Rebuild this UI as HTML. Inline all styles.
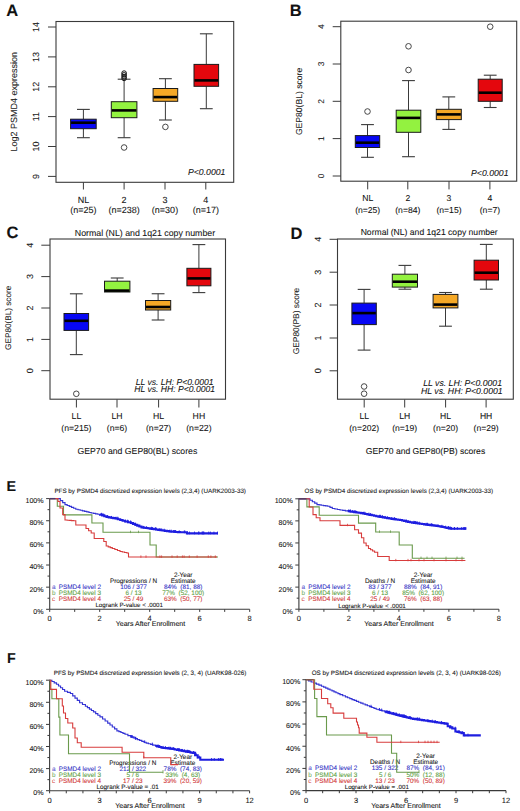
<!DOCTYPE html>
<html><head><meta charset="utf-8"><style>
html,body{margin:0;padding:0;background:#fff;}
svg{display:block;font-family:"Liberation Sans", sans-serif;text-rendering:geometricPrecision;}
</style></head><body>
<svg width="520" height="811" viewBox="0 0 520 811">
<rect width="520" height="811" fill="#fff"/>
<text x="6.2" y="16.3" font-size="16.5" text-anchor="start" fill="#111" stroke="#111" stroke-width="0.08" font-weight="bold">A</text>
<rect x="56" y="21.5" width="177.7" height="160.8" fill="none" stroke="#3a3a3a" stroke-width="1.1"/>
<line x1="48" y1="27" x2="56" y2="27" stroke="#3a3a3a" stroke-width="1"/>
<text x="39.3" y="27" font-size="9" text-anchor="middle" fill="#222" stroke="#222" stroke-width="0.08" transform="rotate(-90 39.3 27)">14</text>
<line x1="48" y1="56.9" x2="56" y2="56.9" stroke="#3a3a3a" stroke-width="1"/>
<text x="39.3" y="56.9" font-size="9" text-anchor="middle" fill="#222" stroke="#222" stroke-width="0.08" transform="rotate(-90 39.3 56.9)">13</text>
<line x1="48" y1="86.8" x2="56" y2="86.8" stroke="#3a3a3a" stroke-width="1"/>
<text x="39.3" y="86.8" font-size="9" text-anchor="middle" fill="#222" stroke="#222" stroke-width="0.08" transform="rotate(-90 39.3 86.8)">12</text>
<line x1="48" y1="116.6" x2="56" y2="116.6" stroke="#3a3a3a" stroke-width="1"/>
<text x="39.3" y="116.6" font-size="9" text-anchor="middle" fill="#222" stroke="#222" stroke-width="0.08" transform="rotate(-90 39.3 116.6)">11</text>
<line x1="48" y1="146.5" x2="56" y2="146.5" stroke="#3a3a3a" stroke-width="1"/>
<text x="39.3" y="146.5" font-size="9" text-anchor="middle" fill="#222" stroke="#222" stroke-width="0.08" transform="rotate(-90 39.3 146.5)">10</text>
<line x1="48" y1="176.4" x2="56" y2="176.4" stroke="#3a3a3a" stroke-width="1"/>
<text x="39.3" y="176.4" font-size="9" text-anchor="middle" fill="#222" stroke="#222" stroke-width="0.08" transform="rotate(-90 39.3 176.4)">9</text>
<text x="16.9" y="101.8" font-size="9" text-anchor="middle" fill="#222" stroke="#222" stroke-width="0.08" transform="rotate(-90 16.9 101.8)">Log2 PSMD4 expression</text>
<line x1="83.4" y1="109.4" x2="83.4" y2="119.2" stroke="#3a3a3a" stroke-width="1"/>
<line x1="77.0" y1="109.4" x2="89.80000000000001" y2="109.4" stroke="#3a3a3a" stroke-width="1.1"/>
<line x1="83.4" y1="128.7" x2="83.4" y2="137.7" stroke="#3a3a3a" stroke-width="1"/>
<line x1="77.0" y1="137.7" x2="89.80000000000001" y2="137.7" stroke="#3a3a3a" stroke-width="1.1"/>
<rect x="70.60000000000001" y="119.2" width="25.6" height="9.499999999999986" fill="#0707f4" stroke="#1a1a1a" stroke-width="1"/>
<line x1="71.10000000000001" y1="122.7" x2="95.7" y2="122.7" stroke="#000" stroke-width="2.6"/>
<line x1="124.1" y1="79.2" x2="124.1" y2="101.7" stroke="#3a3a3a" stroke-width="1"/>
<line x1="117.69999999999999" y1="79.2" x2="130.5" y2="79.2" stroke="#3a3a3a" stroke-width="1.1"/>
<line x1="124.1" y1="117.7" x2="124.1" y2="137.7" stroke="#3a3a3a" stroke-width="1"/>
<line x1="117.69999999999999" y1="137.7" x2="130.5" y2="137.7" stroke="#3a3a3a" stroke-width="1.1"/>
<rect x="111.3" y="101.7" width="25.6" height="16.0" fill="#93f240" stroke="#1a1a1a" stroke-width="1"/>
<line x1="111.8" y1="110.4" x2="136.4" y2="110.4" stroke="#000" stroke-width="2.6"/>
<circle cx="124.1" cy="147.5" r="2.8" fill="none" stroke="#333" stroke-width="0.9"/>
<circle cx="124.1" cy="73.1" r="2.3" fill="none" stroke="#111" stroke-width="1.0"/>
<circle cx="124.1" cy="74.9" r="2.3" fill="none" stroke="#111" stroke-width="1.0"/>
<circle cx="124.1" cy="76.7" r="2.3" fill="none" stroke="#111" stroke-width="1.0"/>
<circle cx="124.1" cy="78.4" r="2.3" fill="none" stroke="#111" stroke-width="1.0"/>
<line x1="165.4" y1="78.7" x2="165.4" y2="88.5" stroke="#3a3a3a" stroke-width="1"/>
<line x1="159.0" y1="78.7" x2="171.8" y2="78.7" stroke="#3a3a3a" stroke-width="1.1"/>
<line x1="165.4" y1="101.3" x2="165.4" y2="120" stroke="#3a3a3a" stroke-width="1"/>
<line x1="159.0" y1="120" x2="171.8" y2="120" stroke="#3a3a3a" stroke-width="1.1"/>
<rect x="153.1" y="88.5" width="24.6" height="12.799999999999997" fill="#f5a826" stroke="#1a1a1a" stroke-width="1"/>
<line x1="153.6" y1="97.1" x2="177.20000000000002" y2="97.1" stroke="#000" stroke-width="2.6"/>
<circle cx="165.4" cy="126.9" r="2.8" fill="none" stroke="#333" stroke-width="0.9"/>
<line x1="206.3" y1="33.8" x2="206.3" y2="64.4" stroke="#3a3a3a" stroke-width="1"/>
<line x1="199.9" y1="33.8" x2="212.70000000000002" y2="33.8" stroke="#3a3a3a" stroke-width="1.1"/>
<line x1="206.3" y1="86.3" x2="206.3" y2="108.7" stroke="#3a3a3a" stroke-width="1"/>
<line x1="199.9" y1="108.7" x2="212.70000000000002" y2="108.7" stroke="#3a3a3a" stroke-width="1.1"/>
<rect x="194.0" y="64.4" width="24.6" height="21.89999999999999" fill="#e4070d" stroke="#1a1a1a" stroke-width="1"/>
<line x1="194.5" y1="80.4" x2="218.10000000000002" y2="80.4" stroke="#000" stroke-width="2.6"/>
<line x1="83.4" y1="182.3" x2="83.4" y2="189.5" stroke="#3a3a3a" stroke-width="1"/>
<text x="83.4" y="202.9" font-size="9.0" text-anchor="middle" fill="#141414" stroke="#141414" stroke-width="0.08">NL</text>
<text x="83.4" y="213.2" font-size="9.0" text-anchor="middle" fill="#141414" stroke="#141414" stroke-width="0.08">(n=25)</text>
<line x1="124.1" y1="182.3" x2="124.1" y2="189.5" stroke="#3a3a3a" stroke-width="1"/>
<text x="124.1" y="202.9" font-size="9.0" text-anchor="middle" fill="#141414" stroke="#141414" stroke-width="0.08">2</text>
<text x="124.1" y="213.2" font-size="9.0" text-anchor="middle" fill="#141414" stroke="#141414" stroke-width="0.08">(n=238)</text>
<line x1="165.0" y1="182.3" x2="165.0" y2="189.5" stroke="#3a3a3a" stroke-width="1"/>
<text x="165.0" y="202.9" font-size="9.0" text-anchor="middle" fill="#141414" stroke="#141414" stroke-width="0.08">3</text>
<text x="165.0" y="213.2" font-size="9.0" text-anchor="middle" fill="#141414" stroke="#141414" stroke-width="0.08">(n=30)</text>
<line x1="205.8" y1="182.3" x2="205.8" y2="189.5" stroke="#3a3a3a" stroke-width="1"/>
<text x="205.8" y="202.9" font-size="9.0" text-anchor="middle" fill="#141414" stroke="#141414" stroke-width="0.08">4</text>
<text x="205.8" y="213.2" font-size="9.0" text-anchor="middle" fill="#141414" stroke="#141414" stroke-width="0.08">(n=17)</text>
<text x="225.4" y="175" font-size="8.7" text-anchor="end" fill="#141414" stroke="#141414" stroke-width="0.08" font-style="italic">P&lt;0.0001</text>
<text x="289.8" y="16.3" font-size="16.5" text-anchor="start" fill="#111" stroke="#111" stroke-width="0.08" font-weight="bold">B</text>
<rect x="340.8" y="21.2" width="175.9" height="160" fill="none" stroke="#3a3a3a" stroke-width="1.1"/>
<line x1="332.7" y1="26.7" x2="340.8" y2="26.7" stroke="#3a3a3a" stroke-width="1"/>
<text x="323.8" y="26.7" font-size="8.4" text-anchor="middle" fill="#222" stroke="#222" stroke-width="0.08" transform="rotate(-90 323.8 26.7)">4</text>
<line x1="332.7" y1="64" x2="340.8" y2="64" stroke="#3a3a3a" stroke-width="1"/>
<text x="323.8" y="64" font-size="8.4" text-anchor="middle" fill="#222" stroke="#222" stroke-width="0.08" transform="rotate(-90 323.8 64)">3</text>
<line x1="332.7" y1="101.3" x2="340.8" y2="101.3" stroke="#3a3a3a" stroke-width="1"/>
<text x="323.8" y="101.3" font-size="8.4" text-anchor="middle" fill="#222" stroke="#222" stroke-width="0.08" transform="rotate(-90 323.8 101.3)">2</text>
<line x1="332.7" y1="138.6" x2="340.8" y2="138.6" stroke="#3a3a3a" stroke-width="1"/>
<text x="323.8" y="138.6" font-size="8.4" text-anchor="middle" fill="#222" stroke="#222" stroke-width="0.08" transform="rotate(-90 323.8 138.6)">1</text>
<line x1="332.7" y1="176" x2="340.8" y2="176" stroke="#3a3a3a" stroke-width="1"/>
<text x="323.8" y="176" font-size="8.4" text-anchor="middle" fill="#222" stroke="#222" stroke-width="0.08" transform="rotate(-90 323.8 176)">0</text>
<text x="302.2" y="101.4" font-size="8.6" text-anchor="middle" fill="#222" stroke="#222" stroke-width="0.08" transform="rotate(-90 302.2 101.4)">GEP80(BL) score</text>
<line x1="367.5" y1="124.6" x2="367.5" y2="135.6" stroke="#3a3a3a" stroke-width="1"/>
<line x1="361.1" y1="124.6" x2="373.9" y2="124.6" stroke="#3a3a3a" stroke-width="1.1"/>
<line x1="367.5" y1="147.5" x2="367.5" y2="157.3" stroke="#3a3a3a" stroke-width="1"/>
<line x1="361.1" y1="157.3" x2="373.9" y2="157.3" stroke="#3a3a3a" stroke-width="1.1"/>
<rect x="355.3" y="135.6" width="24.4" height="11.900000000000006" fill="#0707f4" stroke="#1a1a1a" stroke-width="1"/>
<line x1="355.8" y1="142.7" x2="379.2" y2="142.7" stroke="#000" stroke-width="2.6"/>
<circle cx="367.5" cy="111.5" r="2.8" fill="none" stroke="#333" stroke-width="0.9"/>
<line x1="408.5" y1="80.6" x2="408.5" y2="110.2" stroke="#3a3a3a" stroke-width="1"/>
<line x1="402.1" y1="80.6" x2="414.9" y2="80.6" stroke="#3a3a3a" stroke-width="1.1"/>
<line x1="408.5" y1="132.3" x2="408.5" y2="156.7" stroke="#3a3a3a" stroke-width="1"/>
<line x1="402.1" y1="156.7" x2="414.9" y2="156.7" stroke="#3a3a3a" stroke-width="1.1"/>
<rect x="396.2" y="110.2" width="24.6" height="22.10000000000001" fill="#93f240" stroke="#1a1a1a" stroke-width="1"/>
<line x1="396.7" y1="117.9" x2="420.3" y2="117.9" stroke="#000" stroke-width="2.6"/>
<circle cx="408.5" cy="46.3" r="2.8" fill="none" stroke="#333" stroke-width="0.9"/>
<circle cx="408.5" cy="70" r="2.8" fill="none" stroke="#333" stroke-width="0.9"/>
<line x1="448.8" y1="96.9" x2="448.8" y2="109.3" stroke="#3a3a3a" stroke-width="1"/>
<line x1="442.40000000000003" y1="96.9" x2="455.2" y2="96.9" stroke="#3a3a3a" stroke-width="1.1"/>
<line x1="448.8" y1="119.6" x2="448.8" y2="129.4" stroke="#3a3a3a" stroke-width="1"/>
<line x1="442.40000000000003" y1="129.4" x2="455.2" y2="129.4" stroke="#3a3a3a" stroke-width="1.1"/>
<rect x="436.3" y="109.3" width="25.0" height="10.299999999999997" fill="#f5a826" stroke="#1a1a1a" stroke-width="1"/>
<line x1="436.8" y1="114.4" x2="460.8" y2="114.4" stroke="#000" stroke-width="2.6"/>
<line x1="490.2" y1="75.2" x2="490.2" y2="79.2" stroke="#3a3a3a" stroke-width="1"/>
<line x1="483.8" y1="75.2" x2="496.59999999999997" y2="75.2" stroke="#3a3a3a" stroke-width="1.1"/>
<line x1="490.2" y1="101.3" x2="490.2" y2="107.5" stroke="#3a3a3a" stroke-width="1"/>
<line x1="483.8" y1="107.5" x2="496.59999999999997" y2="107.5" stroke="#3a3a3a" stroke-width="1.1"/>
<rect x="478.2" y="79.2" width="24.0" height="22.099999999999994" fill="#e4070d" stroke="#1a1a1a" stroke-width="1"/>
<line x1="478.7" y1="92.7" x2="501.7" y2="92.7" stroke="#000" stroke-width="2.6"/>
<circle cx="490.2" cy="26.7" r="2.8" fill="none" stroke="#333" stroke-width="0.9"/>
<line x1="367.7" y1="181.2" x2="367.7" y2="189.4" stroke="#3a3a3a" stroke-width="1"/>
<text x="367.7" y="200.5" font-size="8.6" text-anchor="middle" fill="#141414" stroke="#141414" stroke-width="0.08">NL</text>
<text x="367.7" y="213.3" font-size="8.6" text-anchor="middle" fill="#141414" stroke="#141414" stroke-width="0.08">(n=25)</text>
<line x1="407.8" y1="181.2" x2="407.8" y2="189.4" stroke="#3a3a3a" stroke-width="1"/>
<text x="407.8" y="200.5" font-size="8.6" text-anchor="middle" fill="#141414" stroke="#141414" stroke-width="0.08">2</text>
<text x="407.8" y="213.3" font-size="8.6" text-anchor="middle" fill="#141414" stroke="#141414" stroke-width="0.08">(n=84)</text>
<line x1="449.0" y1="181.2" x2="449.0" y2="189.4" stroke="#3a3a3a" stroke-width="1"/>
<text x="449.0" y="200.5" font-size="8.6" text-anchor="middle" fill="#141414" stroke="#141414" stroke-width="0.08">3</text>
<text x="449.0" y="213.3" font-size="8.6" text-anchor="middle" fill="#141414" stroke="#141414" stroke-width="0.08">(n=15)</text>
<line x1="489.9" y1="181.2" x2="489.9" y2="189.4" stroke="#3a3a3a" stroke-width="1"/>
<text x="489.9" y="200.5" font-size="8.6" text-anchor="middle" fill="#141414" stroke="#141414" stroke-width="0.08">4</text>
<text x="489.9" y="213.3" font-size="8.6" text-anchor="middle" fill="#141414" stroke="#141414" stroke-width="0.08">(n=7)</text>
<text x="508.5" y="176" font-size="8.7" text-anchor="end" fill="#141414" stroke="#141414" stroke-width="0.08" font-style="italic">P&lt;0.0001</text>
<text x="6.5" y="237.7" font-size="16.5" text-anchor="start" fill="#111" stroke="#111" stroke-width="0.08" font-weight="bold">C</text>
<text x="145" y="236" font-size="8.8" text-anchor="middle" fill="#141414" stroke="#141414" stroke-width="0.08">Normal (NL) and 1q21 copy number</text>
<rect x="50" y="239" width="175.5" height="160.2" fill="none" stroke="#3a3a3a" stroke-width="1.1"/>
<line x1="41.3" y1="245.2" x2="50" y2="245.2" stroke="#3a3a3a" stroke-width="1"/>
<text x="32.9" y="245.2" font-size="9.0" text-anchor="middle" fill="#222" stroke="#222" stroke-width="0.08" transform="rotate(-90 32.9 245.2)">4</text>
<line x1="41.3" y1="276.6" x2="50" y2="276.6" stroke="#3a3a3a" stroke-width="1"/>
<text x="32.9" y="276.6" font-size="9.0" text-anchor="middle" fill="#222" stroke="#222" stroke-width="0.08" transform="rotate(-90 32.9 276.6)">3</text>
<line x1="41.3" y1="308" x2="50" y2="308" stroke="#3a3a3a" stroke-width="1"/>
<text x="32.9" y="308" font-size="9.0" text-anchor="middle" fill="#222" stroke="#222" stroke-width="0.08" transform="rotate(-90 32.9 308)">2</text>
<line x1="41.3" y1="339.4" x2="50" y2="339.4" stroke="#3a3a3a" stroke-width="1"/>
<text x="32.9" y="339.4" font-size="9.0" text-anchor="middle" fill="#222" stroke="#222" stroke-width="0.08" transform="rotate(-90 32.9 339.4)">1</text>
<line x1="41.3" y1="370.7" x2="50" y2="370.7" stroke="#3a3a3a" stroke-width="1"/>
<text x="32.9" y="370.7" font-size="9.0" text-anchor="middle" fill="#222" stroke="#222" stroke-width="0.08" transform="rotate(-90 32.9 370.7)">0</text>
<text x="10.6" y="317.8" font-size="8.2" text-anchor="middle" fill="#222" stroke="#222" stroke-width="0.08" transform="rotate(-90 10.6 317.8)">GEP80(BL) score</text>
<line x1="76.3" y1="293.8" x2="76.3" y2="313.5" stroke="#3a3a3a" stroke-width="1"/>
<line x1="69.89999999999999" y1="293.8" x2="82.7" y2="293.8" stroke="#3a3a3a" stroke-width="1.1"/>
<line x1="76.3" y1="330.4" x2="76.3" y2="354.6" stroke="#3a3a3a" stroke-width="1"/>
<line x1="69.89999999999999" y1="354.6" x2="82.7" y2="354.6" stroke="#3a3a3a" stroke-width="1.1"/>
<rect x="64.0" y="313.5" width="24.6" height="16.899999999999977" fill="#0707f4" stroke="#1a1a1a" stroke-width="1"/>
<line x1="64.5" y1="320.8" x2="88.1" y2="320.8" stroke="#000" stroke-width="2.6"/>
<circle cx="76.3" cy="393.8" r="2.8" fill="none" stroke="#333" stroke-width="0.9"/>
<line x1="117.2" y1="278" x2="117.2" y2="281.2" stroke="#3a3a3a" stroke-width="1"/>
<line x1="110.8" y1="278" x2="123.60000000000001" y2="278" stroke="#3a3a3a" stroke-width="1.1"/>
<rect x="104.5" y="281.2" width="25.4" height="10.800000000000011" fill="#93f240" stroke="#1a1a1a" stroke-width="1"/>
<line x1="105.0" y1="290.6" x2="129.4" y2="290.6" stroke="#000" stroke-width="2.6"/>
<line x1="158.1" y1="293.75" x2="158.1" y2="300.5" stroke="#3a3a3a" stroke-width="1"/>
<line x1="151.7" y1="293.75" x2="164.5" y2="293.75" stroke="#3a3a3a" stroke-width="1.1"/>
<line x1="158.1" y1="310" x2="158.1" y2="320" stroke="#3a3a3a" stroke-width="1"/>
<line x1="151.7" y1="320" x2="164.5" y2="320" stroke="#3a3a3a" stroke-width="1.1"/>
<rect x="145.5" y="300.5" width="25.2" height="9.5" fill="#f5a826" stroke="#1a1a1a" stroke-width="1"/>
<line x1="146.0" y1="307" x2="170.2" y2="307" stroke="#000" stroke-width="2.6"/>
<line x1="198.9" y1="244.6" x2="198.9" y2="268.3" stroke="#3a3a3a" stroke-width="1"/>
<line x1="192.5" y1="244.6" x2="205.3" y2="244.6" stroke="#3a3a3a" stroke-width="1.1"/>
<line x1="198.9" y1="285.8" x2="198.9" y2="292.6" stroke="#3a3a3a" stroke-width="1"/>
<line x1="192.5" y1="292.6" x2="205.3" y2="292.6" stroke="#3a3a3a" stroke-width="1.1"/>
<rect x="186.9" y="268.3" width="24.0" height="17.5" fill="#e4070d" stroke="#1a1a1a" stroke-width="1"/>
<line x1="187.4" y1="278.4" x2="210.4" y2="278.4" stroke="#000" stroke-width="2.6"/>
<line x1="76.4" y1="399.5" x2="76.4" y2="407.5" stroke="#3a3a3a" stroke-width="1"/>
<text x="76.4" y="419.2" font-size="8.7" text-anchor="middle" fill="#141414" stroke="#141414" stroke-width="0.08">LL</text>
<text x="76.4" y="430.6" font-size="8.7" text-anchor="middle" fill="#141414" stroke="#141414" stroke-width="0.08">(n=215)</text>
<line x1="117" y1="399.5" x2="117" y2="407.5" stroke="#3a3a3a" stroke-width="1"/>
<text x="117" y="419.2" font-size="8.7" text-anchor="middle" fill="#141414" stroke="#141414" stroke-width="0.08">LH</text>
<text x="117" y="430.6" font-size="8.7" text-anchor="middle" fill="#141414" stroke="#141414" stroke-width="0.08">(n=6)</text>
<line x1="158.6" y1="399.5" x2="158.6" y2="407.5" stroke="#3a3a3a" stroke-width="1"/>
<text x="158.6" y="419.2" font-size="8.7" text-anchor="middle" fill="#141414" stroke="#141414" stroke-width="0.08">HL</text>
<text x="158.6" y="430.6" font-size="8.7" text-anchor="middle" fill="#141414" stroke="#141414" stroke-width="0.08">(n=27)</text>
<line x1="198.9" y1="399.5" x2="198.9" y2="407.5" stroke="#3a3a3a" stroke-width="1"/>
<text x="198.9" y="419.2" font-size="8.7" text-anchor="middle" fill="#141414" stroke="#141414" stroke-width="0.08">HH</text>
<text x="198.9" y="430.6" font-size="8.7" text-anchor="middle" fill="#141414" stroke="#141414" stroke-width="0.08">(n=22)</text>
<text x="213.6" y="384.9" font-size="8.6" text-anchor="end" fill="#141414" stroke="#141414" stroke-width="0.08" font-style="italic">LL vs. LH: P&lt;0.0001</text>
<text x="215" y="392.4" font-size="8.6" text-anchor="end" fill="#141414" stroke="#141414" stroke-width="0.08" font-style="italic">HL vs. HH: P&lt;0.0001</text>
<text x="137.4" y="454" font-size="8.7" text-anchor="middle" fill="#141414" stroke="#141414" stroke-width="0.08">GEP70 and GEP80(BL) scores</text>
<text x="290.4" y="238.5" font-size="16.5" text-anchor="start" fill="#111" stroke="#111" stroke-width="0.08" font-weight="bold">D</text>
<text x="429.2" y="235.4" font-size="8.6" text-anchor="middle" fill="#141414" stroke="#141414" stroke-width="0.08">Normal (NL) and 1q21 copy number</text>
<rect x="337.5" y="239" width="175.8" height="160.2" fill="none" stroke="#3a3a3a" stroke-width="1.1"/>
<line x1="329.6" y1="239.3" x2="337.5" y2="239.3" stroke="#3a3a3a" stroke-width="1"/>
<text x="321.0" y="239.3" font-size="9.0" text-anchor="middle" fill="#222" stroke="#222" stroke-width="0.08" transform="rotate(-90 321.0 239.3)">4</text>
<line x1="329.6" y1="272.2" x2="337.5" y2="272.2" stroke="#3a3a3a" stroke-width="1"/>
<text x="321.0" y="272.2" font-size="9.0" text-anchor="middle" fill="#222" stroke="#222" stroke-width="0.08" transform="rotate(-90 321.0 272.2)">3</text>
<line x1="329.6" y1="305" x2="337.5" y2="305" stroke="#3a3a3a" stroke-width="1"/>
<text x="321.0" y="305" font-size="9.0" text-anchor="middle" fill="#222" stroke="#222" stroke-width="0.08" transform="rotate(-90 321.0 305)">2</text>
<line x1="329.6" y1="338" x2="337.5" y2="338" stroke="#3a3a3a" stroke-width="1"/>
<text x="321.0" y="338" font-size="9.0" text-anchor="middle" fill="#222" stroke="#222" stroke-width="0.08" transform="rotate(-90 321.0 338)">1</text>
<line x1="329.6" y1="370.8" x2="337.5" y2="370.8" stroke="#3a3a3a" stroke-width="1"/>
<text x="321.0" y="370.8" font-size="9.0" text-anchor="middle" fill="#222" stroke="#222" stroke-width="0.08" transform="rotate(-90 321.0 370.8)">0</text>
<text x="298.6" y="321" font-size="8.4" text-anchor="middle" fill="#222" stroke="#222" stroke-width="0.08" transform="rotate(-90 298.6 321)">GEP80(PB) score</text>
<line x1="364.1" y1="289.4" x2="364.1" y2="303.1" stroke="#3a3a3a" stroke-width="1"/>
<line x1="357.70000000000005" y1="289.4" x2="370.5" y2="289.4" stroke="#3a3a3a" stroke-width="1.1"/>
<line x1="364.1" y1="324.6" x2="364.1" y2="350.1" stroke="#3a3a3a" stroke-width="1"/>
<line x1="357.70000000000005" y1="350.1" x2="370.5" y2="350.1" stroke="#3a3a3a" stroke-width="1.1"/>
<rect x="351.90000000000003" y="303.1" width="24.4" height="21.5" fill="#0707f4" stroke="#1a1a1a" stroke-width="1"/>
<line x1="352.40000000000003" y1="313.1" x2="375.8" y2="313.1" stroke="#000" stroke-width="2.6"/>
<circle cx="364.1" cy="386.5" r="2.8" fill="none" stroke="#333" stroke-width="0.9"/>
<circle cx="364.1" cy="393.7" r="2.8" fill="none" stroke="#333" stroke-width="0.9"/>
<line x1="404.9" y1="265.4" x2="404.9" y2="274.2" stroke="#3a3a3a" stroke-width="1"/>
<line x1="398.5" y1="265.4" x2="411.29999999999995" y2="265.4" stroke="#3a3a3a" stroke-width="1.1"/>
<line x1="404.9" y1="287.1" x2="404.9" y2="289.2" stroke="#3a3a3a" stroke-width="1"/>
<line x1="398.5" y1="289.2" x2="411.29999999999995" y2="289.2" stroke="#3a3a3a" stroke-width="1.1"/>
<rect x="392.29999999999995" y="274.2" width="25.2" height="12.900000000000034" fill="#93f240" stroke="#1a1a1a" stroke-width="1"/>
<line x1="392.79999999999995" y1="281.7" x2="417.0" y2="281.7" stroke="#000" stroke-width="2.6"/>
<line x1="445.5" y1="292.5" x2="445.5" y2="294.4" stroke="#3a3a3a" stroke-width="1"/>
<line x1="439.1" y1="292.5" x2="451.9" y2="292.5" stroke="#3a3a3a" stroke-width="1.1"/>
<line x1="445.5" y1="307.9" x2="445.5" y2="326.2" stroke="#3a3a3a" stroke-width="1"/>
<line x1="439.1" y1="326.2" x2="451.9" y2="326.2" stroke="#3a3a3a" stroke-width="1.1"/>
<rect x="433.1" y="294.4" width="24.8" height="13.5" fill="#f5a826" stroke="#1a1a1a" stroke-width="1"/>
<line x1="433.6" y1="304.6" x2="457.4" y2="304.6" stroke="#000" stroke-width="2.6"/>
<line x1="486.3" y1="244.4" x2="486.3" y2="260.2" stroke="#3a3a3a" stroke-width="1"/>
<line x1="479.90000000000003" y1="244.4" x2="492.7" y2="244.4" stroke="#3a3a3a" stroke-width="1.1"/>
<line x1="486.3" y1="280" x2="486.3" y2="289.2" stroke="#3a3a3a" stroke-width="1"/>
<line x1="479.90000000000003" y1="289.2" x2="492.7" y2="289.2" stroke="#3a3a3a" stroke-width="1.1"/>
<rect x="474.1" y="260.2" width="24.4" height="19.80000000000001" fill="#e4070d" stroke="#1a1a1a" stroke-width="1"/>
<line x1="474.6" y1="272.7" x2="498.0" y2="272.7" stroke="#000" stroke-width="2.6"/>
<line x1="364.2" y1="399.5" x2="364.2" y2="407.5" stroke="#3a3a3a" stroke-width="1"/>
<text x="364.2" y="419" font-size="8.6" text-anchor="middle" fill="#141414" stroke="#141414" stroke-width="0.08">LL</text>
<text x="364.2" y="430.7" font-size="8.6" text-anchor="middle" fill="#141414" stroke="#141414" stroke-width="0.08">(n=202)</text>
<line x1="404.7" y1="399.5" x2="404.7" y2="407.5" stroke="#3a3a3a" stroke-width="1"/>
<text x="404.7" y="419" font-size="8.6" text-anchor="middle" fill="#141414" stroke="#141414" stroke-width="0.08">LH</text>
<text x="404.7" y="430.7" font-size="8.6" text-anchor="middle" fill="#141414" stroke="#141414" stroke-width="0.08">(n=19)</text>
<line x1="445.6" y1="399.5" x2="445.6" y2="407.5" stroke="#3a3a3a" stroke-width="1"/>
<text x="445.6" y="419" font-size="8.6" text-anchor="middle" fill="#141414" stroke="#141414" stroke-width="0.08">HL</text>
<text x="445.6" y="430.7" font-size="8.6" text-anchor="middle" fill="#141414" stroke="#141414" stroke-width="0.08">(n=20)</text>
<line x1="486.1" y1="399.5" x2="486.1" y2="407.5" stroke="#3a3a3a" stroke-width="1"/>
<text x="486.1" y="419" font-size="8.6" text-anchor="middle" fill="#141414" stroke="#141414" stroke-width="0.08">HH</text>
<text x="486.1" y="430.7" font-size="8.6" text-anchor="middle" fill="#141414" stroke="#141414" stroke-width="0.08">(n=29)</text>
<text x="502" y="385.8" font-size="8.7" text-anchor="end" fill="#141414" stroke="#141414" stroke-width="0.08" font-style="italic">LL vs. LH: P&lt;0.0001</text>
<text x="502.7" y="394.4" font-size="8.7" text-anchor="end" fill="#141414" stroke="#141414" stroke-width="0.08" font-style="italic">HL vs. HH: P&lt;0.0001</text>
<text x="425.5" y="453.7" font-size="8.6" text-anchor="middle" fill="#141414" stroke="#141414" stroke-width="0.08">GEP70 and GEP80(PB) scores</text>
<text x="6.6" y="490.8" font-size="14.3" text-anchor="start" fill="#111" stroke="#111" stroke-width="0.08" font-weight="bold">E</text>
<text x="150.2" y="493" font-size="6.28" text-anchor="middle" fill="#141414" stroke="#141414" stroke-width="0.08">PFS by PSMD4 discretized expression levels (2,3,4) (UARK2003-33)</text>
<line x1="49.7" y1="498.1" x2="49.7" y2="609.3" stroke="#3a3a3a" stroke-width="1.1"/>
<line x1="49.7" y1="609.3" x2="249.7" y2="609.3" stroke="#3a3a3a" stroke-width="1.1"/>
<line x1="46.1" y1="609.3" x2="49.7" y2="609.3" stroke="#3a3a3a" stroke-width="1"/>
<text x="43.6" y="613.6999999999999" font-size="7.1" text-anchor="end" fill="#141414" stroke="#141414" stroke-width="0.08">0%</text>
<line x1="47.5" y1="598.23" x2="49.7" y2="598.23" stroke="#3a3a3a" stroke-width="1"/>
<line x1="46.1" y1="587.16" x2="49.7" y2="587.16" stroke="#3a3a3a" stroke-width="1"/>
<text x="43.6" y="591.56" font-size="7.1" text-anchor="end" fill="#141414" stroke="#141414" stroke-width="0.08">20%</text>
<line x1="47.5" y1="576.0899999999999" x2="49.7" y2="576.0899999999999" stroke="#3a3a3a" stroke-width="1"/>
<line x1="46.1" y1="565.02" x2="49.7" y2="565.02" stroke="#3a3a3a" stroke-width="1"/>
<text x="43.6" y="569.42" font-size="7.1" text-anchor="end" fill="#141414" stroke="#141414" stroke-width="0.08">40%</text>
<line x1="47.5" y1="553.95" x2="49.7" y2="553.95" stroke="#3a3a3a" stroke-width="1"/>
<line x1="46.1" y1="542.88" x2="49.7" y2="542.88" stroke="#3a3a3a" stroke-width="1"/>
<text x="43.6" y="547.28" font-size="7.1" text-anchor="end" fill="#141414" stroke="#141414" stroke-width="0.08">60%</text>
<line x1="47.5" y1="531.81" x2="49.7" y2="531.81" stroke="#3a3a3a" stroke-width="1"/>
<line x1="46.1" y1="520.74" x2="49.7" y2="520.74" stroke="#3a3a3a" stroke-width="1"/>
<text x="43.6" y="525.14" font-size="7.1" text-anchor="end" fill="#141414" stroke="#141414" stroke-width="0.08">80%</text>
<line x1="47.5" y1="509.67" x2="49.7" y2="509.67" stroke="#3a3a3a" stroke-width="1"/>
<line x1="46.1" y1="498.6" x2="49.7" y2="498.6" stroke="#3a3a3a" stroke-width="1"/>
<text x="43.6" y="503.0" font-size="7.1" text-anchor="end" fill="#141414" stroke="#141414" stroke-width="0.08">100%</text>
<line x1="49.7" y1="609.3" x2="49.7" y2="611.9" stroke="#3a3a3a" stroke-width="1"/>
<text x="49.7" y="621.1999999999999" font-size="7.5" text-anchor="middle" fill="#141414" stroke="#141414" stroke-width="0.08">0</text>
<line x1="74.7" y1="609.3" x2="74.7" y2="611.9" stroke="#3a3a3a" stroke-width="1"/>
<line x1="99.7" y1="609.3" x2="99.7" y2="611.9" stroke="#3a3a3a" stroke-width="1"/>
<text x="99.7" y="621.1999999999999" font-size="7.5" text-anchor="middle" fill="#141414" stroke="#141414" stroke-width="0.08">2</text>
<line x1="124.7" y1="609.3" x2="124.7" y2="611.9" stroke="#3a3a3a" stroke-width="1"/>
<line x1="149.7" y1="609.3" x2="149.7" y2="611.9" stroke="#3a3a3a" stroke-width="1"/>
<text x="149.7" y="621.1999999999999" font-size="7.5" text-anchor="middle" fill="#141414" stroke="#141414" stroke-width="0.08">4</text>
<line x1="174.7" y1="609.3" x2="174.7" y2="611.9" stroke="#3a3a3a" stroke-width="1"/>
<line x1="199.7" y1="609.3" x2="199.7" y2="611.9" stroke="#3a3a3a" stroke-width="1"/>
<text x="199.7" y="621.1999999999999" font-size="7.5" text-anchor="middle" fill="#141414" stroke="#141414" stroke-width="0.08">6</text>
<line x1="224.7" y1="609.3" x2="224.7" y2="611.9" stroke="#3a3a3a" stroke-width="1"/>
<line x1="249.7" y1="609.3" x2="249.7" y2="611.9" stroke="#3a3a3a" stroke-width="1"/>
<text x="249.7" y="621.1999999999999" font-size="7.5" text-anchor="middle" fill="#141414" stroke="#141414" stroke-width="0.08">8</text>
<text x="51.900000000000006" y="588.6999999999999" font-size="6.4" text-anchor="start" fill="#2f2fc4" stroke="#2f2fc4" stroke-width="0.08" fill-opacity="0.8">a</text>
<text x="58.7" y="588.6999999999999" font-size="6.4" text-anchor="start" fill="#2f2fc4" stroke="#2f2fc4" stroke-width="0.08">PSMD4 level 2</text>
<text x="133.5" y="588.6999999999999" font-size="6.4" text-anchor="middle" fill="#2f2fc4" stroke="#2f2fc4" stroke-width="0.08">106 / 377</text>
<text x="183.2" y="588.6999999999999" font-size="6.4" text-anchor="middle" fill="#2f2fc4" stroke="#2f2fc4" stroke-width="0.08" xml:space="preserve">84%  (81, 88)</text>
<text x="51.900000000000006" y="594.6999999999999" font-size="6.4" text-anchor="start" fill="#5a9e3e" stroke="#5a9e3e" stroke-width="0.08" fill-opacity="0.8">b</text>
<text x="58.7" y="594.6999999999999" font-size="6.4" text-anchor="start" fill="#5a9e3e" stroke="#5a9e3e" stroke-width="0.08">PSMD4 level 3</text>
<text x="133.5" y="594.6999999999999" font-size="6.4" text-anchor="middle" fill="#5a9e3e" stroke="#5a9e3e" stroke-width="0.08">6 / 13</text>
<text x="183.2" y="594.6999999999999" font-size="6.4" text-anchor="middle" fill="#5a9e3e" stroke="#5a9e3e" stroke-width="0.08" xml:space="preserve">77%  (52, 100)</text>
<text x="51.900000000000006" y="600.6999999999999" font-size="6.4" text-anchor="start" fill="#d03434" stroke="#d03434" stroke-width="0.08" fill-opacity="0.8">c</text>
<text x="58.7" y="600.6999999999999" font-size="6.4" text-anchor="start" fill="#d03434" stroke="#d03434" stroke-width="0.08">PSMD4 level 4</text>
<text x="133.5" y="600.6999999999999" font-size="6.4" text-anchor="middle" fill="#d03434" stroke="#d03434" stroke-width="0.08">25 / 49</text>
<text x="183.2" y="600.6999999999999" font-size="6.4" text-anchor="middle" fill="#d03434" stroke="#d03434" stroke-width="0.08" xml:space="preserve">63%  (50, 77)</text>
<text x="133.5" y="583.2" font-size="6.4" text-anchor="middle" fill="#141414" stroke="#141414" stroke-width="0.08">Progressions / N</text>
<text x="183.2" y="577.3000000000001" font-size="6.4" text-anchor="middle" fill="#141414" stroke="#141414" stroke-width="0.08">2-Year</text>
<text x="183.2" y="583.2" font-size="6.4" text-anchor="middle" fill="#141414" stroke="#141414" stroke-width="0.08">Estimate</text>
<text x="95.4" y="607.3" font-size="6.2" text-anchor="start" fill="#141414" stroke="#141414" stroke-width="0.08">Logrank P-value &lt; .0001</text>
<text x="150.5" y="626.3" font-size="7.0" text-anchor="middle" fill="#1a1a1a" stroke="#1a1a1a" stroke-width="0.12">Years After Enrollment</text>
<polyline points="49.70,498.60 58.00,498.60 60.33,498.60 60.33,500.60 62.67,500.60 62.67,502.60 65.00,502.60 65.00,504.60 67.16,504.60 67.16,505.52 69.32,505.52 69.32,506.44 71.48,506.44 71.48,507.36 73.64,507.36 73.64,508.28 75.80,508.28 75.80,509.20 78.00,509.20 78.00,509.74 80.20,509.74 80.20,510.29 82.40,510.29 82.40,510.83 84.60,510.83 84.60,511.37 86.80,511.37 86.80,511.91 89.00,511.91 89.00,512.46 91.20,512.46 91.20,513.00 93.40,513.00 93.40,513.40 95.60,513.40 95.60,513.80 97.80,513.80 97.80,514.20 100.00,514.20 100.00,514.60" fill="none" stroke="#3434d4" stroke-width="1.15"/>
<polyline points="100.00,514.60 100.00,514.20 100.00,514.60 102.17,514.60 102.17,515.40 104.33,515.40 104.33,516.20 106.50,516.20 106.50,517.00 108.72,517.00 108.72,517.38 110.95,517.38 110.95,517.75 113.18,517.75 113.18,518.12 115.40,518.12 115.40,518.50 117.80,518.50 117.80,519.25 120.20,519.25 120.20,520.00 122.60,520.00 122.60,520.75 125.00,520.75 125.00,521.50 127.90,521.50 127.90,522.25 130.80,522.25 130.80,523.00 132.94,523.00 132.94,523.88 135.08,523.88 135.08,524.76 137.22,524.76 137.22,525.64 139.36,525.64 139.36,526.52 141.50,526.52 141.50,527.40 143.55,527.40 143.55,527.70 145.60,527.70 145.60,528.00 147.65,528.00 147.65,528.30 149.70,528.30 149.70,528.60 151.75,528.60 151.75,528.90 153.80,528.90 153.80,529.20 156.00,529.20 156.00,529.53 158.20,529.53 158.20,529.86 160.40,529.86 160.40,530.19 162.60,530.19 162.60,530.51 164.80,530.51 164.80,530.84 167.00,530.84 167.00,531.17 169.20,531.17 169.20,531.50 171.36,531.50 171.36,531.66 173.52,531.66 173.52,531.82 175.68,531.82 175.68,531.98 177.84,531.98 177.84,532.14 180.00,532.14 180.00,532.30 186.90,532.30 186.90,533.40 218.00,533.40" fill="none" stroke="#1e1ee0" stroke-width="2.1"/>
<polyline points="49.70,498.60 57.30,498.60 57.30,506.20 63.50,506.20 63.50,514.90 91.90,514.90 91.90,523.00 103.00,523.00 103.00,532.30 150.00,532.30 150.00,545.00 156.20,545.00 156.20,557.00 218.00,557.00" fill="none" stroke="#6a9a4c" stroke-width="1.1"/>
<polyline points="49.70,498.60 55.00,498.60 58.00,498.60 58.00,501.50 60.00,501.50 60.00,508.00 62.70,508.00 62.70,514.60 65.00,514.60 65.00,520.00 67.12,520.00 67.12,520.20 69.25,520.20 69.25,520.40 71.38,520.40 71.38,520.60 73.50,520.60 73.50,520.80 75.80,520.80 75.80,525.00 84.20,525.00 86.00,525.00 86.00,528.50 88.60,528.50 88.60,530.75 91.20,530.75 91.20,533.00 94.20,533.00 94.20,538.50 100.00,538.50 103.80,538.50 103.80,541.50 106.20,541.50 106.20,546.00 108.23,546.00 108.23,546.83 110.27,546.83 110.27,547.67 112.30,547.67 112.30,548.50 114.87,548.50 114.87,549.50 117.43,549.50 117.43,550.50 120.00,550.50 120.00,551.50 122.30,551.50 122.30,552.00 124.60,552.00 124.60,552.50 126.90,552.50 126.90,553.00 128.50,553.00 128.50,557.00 217.00,557.00" fill="none" stroke="#d83c3c" stroke-width="1.1"/>
<line x1="101.55382300347515" y1="512.8000000000001" x2="101.55382300347515" y2="515.5" stroke="#1e1ee0" stroke-width="0.9"/>
<line x1="103.6593866734305" y1="513.6" x2="103.6593866734305" y2="516.3" stroke="#1e1ee0" stroke-width="0.9"/>
<line x1="107.55570971078568" y1="515.2" x2="107.55570971078568" y2="517.9" stroke="#1e1ee0" stroke-width="0.9"/>
<line x1="107.73240539029794" y1="515.2" x2="107.73240539029794" y2="517.9" stroke="#1e1ee0" stroke-width="0.9"/>
<line x1="111.49960854824351" y1="515.95" x2="111.49960854824351" y2="518.65" stroke="#1e1ee0" stroke-width="0.9"/>
<line x1="116.04432550367893" y1="516.7" x2="116.04432550367893" y2="519.4" stroke="#1e1ee0" stroke-width="0.9"/>
<line x1="117.77273803477583" y1="516.7" x2="117.77273803477583" y2="519.4" stroke="#1e1ee0" stroke-width="0.9"/>
<line x1="125.60445906551021" y1="519.7" x2="125.60445906551021" y2="522.4" stroke="#1e1ee0" stroke-width="0.9"/>
<line x1="127.65105340351018" y1="519.7" x2="127.65105340351018" y2="522.4" stroke="#1e1ee0" stroke-width="0.9"/>
<line x1="128.07982599684317" y1="520.45" x2="128.07982599684317" y2="523.15" stroke="#1e1ee0" stroke-width="0.9"/>
<line x1="130.6037736907049" y1="520.45" x2="130.6037736907049" y2="523.15" stroke="#1e1ee0" stroke-width="0.9"/>
<line x1="135.52109141420965" y1="522.96" x2="135.52109141420965" y2="525.66" stroke="#1e1ee0" stroke-width="0.9"/>
<line x1="135.54958382285406" y1="522.96" x2="135.54958382285406" y2="525.66" stroke="#1e1ee0" stroke-width="0.9"/>
<line x1="143.65470965267335" y1="525.9000000000001" x2="143.65470965267335" y2="528.6" stroke="#1e1ee0" stroke-width="0.9"/>
<line x1="146.60568167208777" y1="526.2" x2="146.60568167208777" y2="528.9" stroke="#1e1ee0" stroke-width="0.9"/>
<line x1="151.46710026203664" y1="526.8000000000001" x2="151.46710026203664" y2="529.5" stroke="#1e1ee0" stroke-width="0.9"/>
<line x1="152.46528461398975" y1="527.1000000000001" x2="152.46528461398975" y2="529.8000000000001" stroke="#1e1ee0" stroke-width="0.9"/>
<line x1="155.49109388764884" y1="527.4000000000001" x2="155.49109388764884" y2="530.1" stroke="#1e1ee0" stroke-width="0.9"/>
<line x1="155.7843924625251" y1="527.4000000000001" x2="155.7843924625251" y2="530.1" stroke="#1e1ee0" stroke-width="0.9"/>
<line x1="156.2096786265215" y1="527.7285714285715" x2="156.2096786265215" y2="530.4285714285714" stroke="#1e1ee0" stroke-width="0.9"/>
<line x1="159.85467209182903" y1="528.0571428571429" x2="159.85467209182903" y2="530.7571428571429" stroke="#1e1ee0" stroke-width="0.9"/>
<line x1="161.73538282522955" y1="528.3857142857144" x2="161.73538282522955" y2="531.0857142857143" stroke="#1e1ee0" stroke-width="0.9"/>
<line x1="164.21904858492232" y1="528.7142857142858" x2="164.21904858492232" y2="531.4142857142857" stroke="#1e1ee0" stroke-width="0.9"/>
<line x1="169.74975078589546" y1="529.7" x2="169.74975078589546" y2="532.4" stroke="#1e1ee0" stroke-width="0.9"/>
<line x1="171.26256455435094" y1="529.7" x2="171.26256455435094" y2="532.4" stroke="#1e1ee0" stroke-width="0.9"/>
<line x1="173.83499588475036" y1="530.02" x2="173.83499588475036" y2="532.7199999999999" stroke="#1e1ee0" stroke-width="0.9"/>
<line x1="173.94449832228287" y1="530.02" x2="173.94449832228287" y2="532.7199999999999" stroke="#1e1ee0" stroke-width="0.9"/>
<line x1="174.91355767765225" y1="530.02" x2="174.91355767765225" y2="532.7199999999999" stroke="#1e1ee0" stroke-width="0.9"/>
<line x1="175.41004058421112" y1="530.02" x2="175.41004058421112" y2="532.7199999999999" stroke="#1e1ee0" stroke-width="0.9"/>
<line x1="179.22655409361192" y1="530.34" x2="179.22655409361192" y2="533.04" stroke="#1e1ee0" stroke-width="0.9"/>
<line x1="184.2672790661219" y1="530.5" x2="184.2672790661219" y2="533.1999999999999" stroke="#1e1ee0" stroke-width="0.9"/>
<line x1="184.82122303976476" y1="530.5" x2="184.82122303976476" y2="533.1999999999999" stroke="#1e1ee0" stroke-width="0.9"/>
<line x1="187.46771903177586" y1="531.6" x2="187.46771903177586" y2="534.3" stroke="#1e1ee0" stroke-width="0.9"/>
<line x1="189.47116906184445" y1="531.6" x2="189.47116906184445" y2="534.3" stroke="#1e1ee0" stroke-width="0.9"/>
<line x1="194.50723497625694" y1="531.6" x2="194.50723497625694" y2="534.3" stroke="#1e1ee0" stroke-width="0.9"/>
<line x1="198.70245125037786" y1="531.6" x2="198.70245125037786" y2="534.3" stroke="#1e1ee0" stroke-width="0.9"/>
<line x1="198.82135168738228" y1="531.6" x2="198.82135168738228" y2="534.3" stroke="#1e1ee0" stroke-width="0.9"/>
<line x1="202.1322139635156" y1="531.6" x2="202.1322139635156" y2="534.3" stroke="#1e1ee0" stroke-width="0.9"/>
<line x1="202.42934624290902" y1="531.6" x2="202.42934624290902" y2="534.3" stroke="#1e1ee0" stroke-width="0.9"/>
<line x1="203.69991043014684" y1="531.6" x2="203.69991043014684" y2="534.3" stroke="#1e1ee0" stroke-width="0.9"/>
<line x1="203.7062659198889" y1="531.6" x2="203.7062659198889" y2="534.3" stroke="#1e1ee0" stroke-width="0.9"/>
<line x1="208.6896427748972" y1="531.6" x2="208.6896427748972" y2="534.3" stroke="#1e1ee0" stroke-width="0.9"/>
<line x1="210.39923316113348" y1="531.6" x2="210.39923316113348" y2="534.3" stroke="#1e1ee0" stroke-width="0.9"/>
<line x1="213.92665638998795" y1="531.6" x2="213.92665638998795" y2="534.3" stroke="#1e1ee0" stroke-width="0.9"/>
<line x1="217.4860905902346" y1="531.6" x2="217.4860905902346" y2="534.3" stroke="#1e1ee0" stroke-width="0.9"/>
<line x1="49.7" y1="498.6" x2="55.5" y2="498.6" stroke="#4a3a6a" stroke-width="1.3"/>
<line x1="130.5" y1="530.6999999999999" x2="130.5" y2="533.0999999999999" stroke="#6a9a4c" stroke-width="0.8"/>
<line x1="138.5" y1="530.6999999999999" x2="138.5" y2="533.0999999999999" stroke="#6a9a4c" stroke-width="0.8"/>
<line x1="140.9" y1="555.4" x2="140.9" y2="557.8" stroke="#d83c3c" stroke-width="0.8"/>
<line x1="146" y1="555.4" x2="146" y2="557.8" stroke="#d83c3c" stroke-width="0.8"/>
<line x1="159.9" y1="555.4" x2="159.9" y2="557.8" stroke="#d83c3c" stroke-width="0.8"/>
<line x1="161.6" y1="555.4" x2="161.6" y2="557.8" stroke="#d83c3c" stroke-width="0.8"/>
<line x1="172" y1="555.4" x2="172" y2="557.8" stroke="#d83c3c" stroke-width="0.8"/>
<line x1="177.2" y1="555.4" x2="177.2" y2="557.8" stroke="#d83c3c" stroke-width="0.8"/>
<line x1="182.4" y1="555.4" x2="182.4" y2="557.8" stroke="#d83c3c" stroke-width="0.8"/>
<line x1="184.1" y1="555.4" x2="184.1" y2="557.8" stroke="#d83c3c" stroke-width="0.8"/>
<line x1="189.3" y1="555.4" x2="189.3" y2="557.8" stroke="#d83c3c" stroke-width="0.8"/>
<line x1="197.1" y1="555.4" x2="197.1" y2="557.8" stroke="#d83c3c" stroke-width="0.8"/>
<line x1="208.3" y1="555.4" x2="208.3" y2="557.8" stroke="#d83c3c" stroke-width="0.8"/>
<line x1="210.9" y1="555.4" x2="210.9" y2="557.8" stroke="#d83c3c" stroke-width="0.8"/>
<line x1="215.3" y1="555.4" x2="215.3" y2="557.8" stroke="#d83c3c" stroke-width="0.8"/>
<text x="398.8" y="493.3" font-size="6.28" text-anchor="middle" fill="#141414" stroke="#141414" stroke-width="0.08">OS by PSMD4 discretized expression levels (2,3,4) (UARK2003-33)</text>
<line x1="298.9" y1="498.3" x2="298.9" y2="609.2" stroke="#3a3a3a" stroke-width="1.1"/>
<line x1="298.9" y1="609.2" x2="498.9" y2="609.2" stroke="#3a3a3a" stroke-width="1.1"/>
<line x1="295.29999999999995" y1="609.2" x2="298.9" y2="609.2" stroke="#3a3a3a" stroke-width="1"/>
<text x="292.8" y="613.6" font-size="7.1" text-anchor="end" fill="#141414" stroke="#141414" stroke-width="0.08">0%</text>
<line x1="296.7" y1="598.1600000000001" x2="298.9" y2="598.1600000000001" stroke="#3a3a3a" stroke-width="1"/>
<line x1="295.29999999999995" y1="587.12" x2="298.9" y2="587.12" stroke="#3a3a3a" stroke-width="1"/>
<text x="292.8" y="591.52" font-size="7.1" text-anchor="end" fill="#141414" stroke="#141414" stroke-width="0.08">20%</text>
<line x1="296.7" y1="576.08" x2="298.9" y2="576.08" stroke="#3a3a3a" stroke-width="1"/>
<line x1="295.29999999999995" y1="565.0400000000001" x2="298.9" y2="565.0400000000001" stroke="#3a3a3a" stroke-width="1"/>
<text x="292.8" y="569.44" font-size="7.1" text-anchor="end" fill="#141414" stroke="#141414" stroke-width="0.08">40%</text>
<line x1="296.7" y1="554.0" x2="298.9" y2="554.0" stroke="#3a3a3a" stroke-width="1"/>
<line x1="295.29999999999995" y1="542.96" x2="298.9" y2="542.96" stroke="#3a3a3a" stroke-width="1"/>
<text x="292.8" y="547.36" font-size="7.1" text-anchor="end" fill="#141414" stroke="#141414" stroke-width="0.08">60%</text>
<line x1="296.7" y1="531.9200000000001" x2="298.9" y2="531.9200000000001" stroke="#3a3a3a" stroke-width="1"/>
<line x1="295.29999999999995" y1="520.88" x2="298.9" y2="520.88" stroke="#3a3a3a" stroke-width="1"/>
<text x="292.8" y="525.28" font-size="7.1" text-anchor="end" fill="#141414" stroke="#141414" stroke-width="0.08">80%</text>
<line x1="296.7" y1="509.84000000000003" x2="298.9" y2="509.84000000000003" stroke="#3a3a3a" stroke-width="1"/>
<line x1="295.29999999999995" y1="498.8" x2="298.9" y2="498.8" stroke="#3a3a3a" stroke-width="1"/>
<text x="292.8" y="503.2" font-size="7.1" text-anchor="end" fill="#141414" stroke="#141414" stroke-width="0.08">100%</text>
<line x1="298.9" y1="609.2" x2="298.9" y2="611.8000000000001" stroke="#3a3a3a" stroke-width="1"/>
<text x="298.9" y="621.1" font-size="7.5" text-anchor="middle" fill="#141414" stroke="#141414" stroke-width="0.08">0</text>
<line x1="323.9" y1="609.2" x2="323.9" y2="611.8000000000001" stroke="#3a3a3a" stroke-width="1"/>
<line x1="348.9" y1="609.2" x2="348.9" y2="611.8000000000001" stroke="#3a3a3a" stroke-width="1"/>
<text x="348.9" y="621.1" font-size="7.5" text-anchor="middle" fill="#141414" stroke="#141414" stroke-width="0.08">2</text>
<line x1="373.9" y1="609.2" x2="373.9" y2="611.8000000000001" stroke="#3a3a3a" stroke-width="1"/>
<line x1="398.9" y1="609.2" x2="398.9" y2="611.8000000000001" stroke="#3a3a3a" stroke-width="1"/>
<text x="398.9" y="621.1" font-size="7.5" text-anchor="middle" fill="#141414" stroke="#141414" stroke-width="0.08">4</text>
<line x1="423.9" y1="609.2" x2="423.9" y2="611.8000000000001" stroke="#3a3a3a" stroke-width="1"/>
<line x1="448.9" y1="609.2" x2="448.9" y2="611.8000000000001" stroke="#3a3a3a" stroke-width="1"/>
<text x="448.9" y="621.1" font-size="7.5" text-anchor="middle" fill="#141414" stroke="#141414" stroke-width="0.08">6</text>
<line x1="473.9" y1="609.2" x2="473.9" y2="611.8000000000001" stroke="#3a3a3a" stroke-width="1"/>
<line x1="498.9" y1="609.2" x2="498.9" y2="611.8000000000001" stroke="#3a3a3a" stroke-width="1"/>
<text x="498.9" y="621.1" font-size="7.5" text-anchor="middle" fill="#141414" stroke="#141414" stroke-width="0.08">8</text>
<text x="301.5" y="589.1999999999999" font-size="6.4" text-anchor="start" fill="#2f2fc4" stroke="#2f2fc4" stroke-width="0.08" fill-opacity="0.8">a</text>
<text x="308.3" y="589.1999999999999" font-size="6.4" text-anchor="start" fill="#2f2fc4" stroke="#2f2fc4" stroke-width="0.08">PSMD4 level 2</text>
<text x="380" y="589.1999999999999" font-size="6.4" text-anchor="middle" fill="#2f2fc4" stroke="#2f2fc4" stroke-width="0.08">83 / 377</text>
<text x="423.1" y="589.1999999999999" font-size="6.4" text-anchor="middle" fill="#2f2fc4" stroke="#2f2fc4" stroke-width="0.08" xml:space="preserve">88%  (84, 91)</text>
<text x="301.5" y="595.1999999999999" font-size="6.4" text-anchor="start" fill="#5a9e3e" stroke="#5a9e3e" stroke-width="0.08" fill-opacity="0.8">b</text>
<text x="308.3" y="595.1999999999999" font-size="6.4" text-anchor="start" fill="#5a9e3e" stroke="#5a9e3e" stroke-width="0.08">PSMD4 level 3</text>
<text x="380" y="595.1999999999999" font-size="6.4" text-anchor="middle" fill="#5a9e3e" stroke="#5a9e3e" stroke-width="0.08">6 / 13</text>
<text x="423.1" y="595.1999999999999" font-size="6.4" text-anchor="middle" fill="#5a9e3e" stroke="#5a9e3e" stroke-width="0.08" xml:space="preserve">85%  (62, 100)</text>
<text x="301.5" y="601.1999999999999" font-size="6.4" text-anchor="start" fill="#d03434" stroke="#d03434" stroke-width="0.08" fill-opacity="0.8">c</text>
<text x="308.3" y="601.1999999999999" font-size="6.4" text-anchor="start" fill="#d03434" stroke="#d03434" stroke-width="0.08">PSMD4 level 4</text>
<text x="380" y="601.1999999999999" font-size="6.4" text-anchor="middle" fill="#d03434" stroke="#d03434" stroke-width="0.08">25 / 49</text>
<text x="423.1" y="601.1999999999999" font-size="6.4" text-anchor="middle" fill="#d03434" stroke="#d03434" stroke-width="0.08" xml:space="preserve">76%  (63, 88)</text>
<text x="380" y="583.1" font-size="6.4" text-anchor="middle" fill="#141414" stroke="#141414" stroke-width="0.08">Deaths / N</text>
<text x="423.1" y="576.9000000000001" font-size="6.4" text-anchor="middle" fill="#141414" stroke="#141414" stroke-width="0.08">2-Year</text>
<text x="423.1" y="583.1" font-size="6.4" text-anchor="middle" fill="#141414" stroke="#141414" stroke-width="0.08">Estimate</text>
<text x="338.2" y="607.6999999999999" font-size="6.2" text-anchor="start" fill="#141414" stroke="#141414" stroke-width="0.08">Logrank P-value &lt; .0001</text>
<text x="399" y="626.2" font-size="7.0" text-anchor="middle" fill="#1a1a1a" stroke="#1a1a1a" stroke-width="0.12">Years After Enrollment</text>
<polyline points="298.90,498.80 307.70,498.80 310.02,498.80 310.02,500.25 312.35,500.25 312.35,501.70 314.68,501.70 314.68,503.15 317.00,503.15 317.00,504.60 319.14,504.60 319.14,504.92 321.28,504.92 321.28,505.24 323.42,505.24 323.42,505.56 325.56,505.56 325.56,505.88 327.70,505.88 327.70,506.20 330.00,506.20 330.00,507.35 332.30,507.35 332.30,508.50 334.87,508.50 334.87,509.00 337.43,509.00 337.43,509.50 340.00,509.50 340.00,510.00 342.70,510.00 342.70,510.40 345.40,510.40 345.40,510.80 347.60,510.80 347.60,511.13" fill="none" stroke="#3434d4" stroke-width="1.15"/>
<polyline points="347.60,511.13 349.80,511.13 349.80,511.46 352.00,511.46 352.00,511.79 354.20,511.79 354.20,512.11 356.40,512.11 356.40,512.44 358.60,512.44 358.60,512.77 360.80,512.77 360.80,513.10 363.00,513.10 363.00,513.54 365.20,513.54 365.20,513.99 367.40,513.99 367.40,514.43 369.60,514.43 369.60,514.87 371.80,514.87 371.80,515.31 374.00,515.31 374.00,515.76 376.20,515.76 376.20,516.20 378.39,516.20 378.39,516.59 380.57,516.59 380.57,516.97 382.76,516.97 382.76,517.36 384.94,517.36 384.94,517.74 387.13,517.74 387.13,518.13 389.31,518.13 389.31,518.51 391.50,518.51 391.50,518.90 393.62,518.90 393.62,519.17 395.75,519.17 395.75,519.45 397.88,519.45 397.88,519.73 400.00,519.73 400.00,520.00 402.00,520.00 402.00,520.46 404.00,520.46 404.00,520.92 406.00,520.92 406.00,521.38 408.00,521.38 408.00,521.84 410.00,521.84 410.00,522.30 412.00,522.30 412.00,522.60 414.00,522.60 414.00,522.90 416.00,522.90 416.00,523.20 418.00,523.20 418.00,523.50 420.00,523.50 420.00,523.80 422.06,523.80 422.06,524.07 424.11,524.07 424.11,524.33 426.17,524.33 426.17,524.60 428.22,524.60 428.22,524.87 430.28,524.87 430.28,525.13 432.33,525.13 432.33,525.40 434.39,525.40 434.39,525.67 436.44,525.67 436.44,525.93 438.50,525.93 438.50,526.20 440.55,526.20 440.55,526.63 442.60,526.63 442.60,527.07 444.65,527.07 444.65,527.50 446.70,527.50 446.70,527.93 448.75,527.93 448.75,528.37 450.80,528.37 450.80,528.80 466.20,528.80" fill="none" stroke="#1e1ee0" stroke-width="2.1"/>
<polyline points="298.90,498.80 306.90,498.80 306.90,506.90 319.20,506.90 319.20,515.20 358.50,515.20 358.50,523.10 375.70,523.10 375.70,532.00 399.20,532.00 399.20,545.00 412.30,545.00 412.30,558.20 464.60,558.20" fill="none" stroke="#6a9a4c" stroke-width="1.1"/>
<polyline points="298.90,498.80 306.00,498.80 309.20,498.80 309.20,507.00 313.00,507.00 313.00,514.60 316.20,514.60 316.20,517.70 320.00,517.70 320.00,520.80 340.00,520.80 340.00,525.40 353.00,525.40 354.60,525.40 354.60,529.70 358.50,529.70 358.50,533.10 361.50,533.10 361.50,537.70 363.80,537.70 363.80,543.00 366.15,543.00 366.15,545.75 368.50,545.75 368.50,548.50 370.53,548.50 370.53,549.77 372.57,549.77 372.57,551.03 374.60,551.03 374.60,552.30 377.70,552.30 377.70,556.50 389.20,556.50 389.20,560.50 465.40,560.50" fill="none" stroke="#d83c3c" stroke-width="1.1"/>
<line x1="348.79670922321344" y1="509.3285714285714" x2="348.79670922321344" y2="512.0285714285715" stroke="#1e1ee0" stroke-width="0.9"/>
<line x1="350.34699739667474" y1="509.65714285714284" x2="350.34699739667474" y2="512.3571428571429" stroke="#1e1ee0" stroke-width="0.9"/>
<line x1="350.4377694630204" y1="509.65714285714284" x2="350.4377694630204" y2="512.3571428571429" stroke="#1e1ee0" stroke-width="0.9"/>
<line x1="352.6787298345728" y1="509.98571428571427" x2="352.6787298345728" y2="512.6857142857143" stroke="#1e1ee0" stroke-width="0.9"/>
<line x1="354.31345526935485" y1="510.31428571428575" x2="354.31345526935485" y2="513.0142857142857" stroke="#1e1ee0" stroke-width="0.9"/>
<line x1="355.71068926627714" y1="510.31428571428575" x2="355.71068926627714" y2="513.0142857142857" stroke="#1e1ee0" stroke-width="0.9"/>
<line x1="363.24261030878995" y1="511.7428571428572" x2="363.24261030878995" y2="514.4428571428572" stroke="#1e1ee0" stroke-width="0.9"/>
<line x1="364.7350542584994" y1="511.7428571428572" x2="364.7350542584994" y2="514.4428571428572" stroke="#1e1ee0" stroke-width="0.9"/>
<line x1="368.8835676278388" y1="512.6285714285715" x2="368.8835676278388" y2="515.3285714285714" stroke="#1e1ee0" stroke-width="0.9"/>
<line x1="370.5461230247474" y1="513.0714285714287" x2="370.5461230247474" y2="515.7714285714286" stroke="#1e1ee0" stroke-width="0.9"/>
<line x1="379.4798529003308" y1="514.7857142857143" x2="379.4798529003308" y2="517.4857142857143" stroke="#1e1ee0" stroke-width="0.9"/>
<line x1="380.5608408651065" y1="514.7857142857143" x2="380.5608408651065" y2="517.4857142857143" stroke="#1e1ee0" stroke-width="0.9"/>
<line x1="382.470076470637" y1="515.1714285714287" x2="382.470076470637" y2="517.8714285714286" stroke="#1e1ee0" stroke-width="0.9"/>
<line x1="385.0454516682999" y1="515.9428571428572" x2="385.0454516682999" y2="518.6428571428571" stroke="#1e1ee0" stroke-width="0.9"/>
<line x1="387.4601691411918" y1="516.3285714285714" x2="387.4601691411918" y2="519.0285714285714" stroke="#1e1ee0" stroke-width="0.9"/>
<line x1="391.6898173202332" y1="517.1" x2="391.6898173202332" y2="519.8" stroke="#1e1ee0" stroke-width="0.9"/>
<line x1="394.36027240965586" y1="517.375" x2="394.36027240965586" y2="520.0749999999999" stroke="#1e1ee0" stroke-width="0.9"/>
<line x1="394.665881108855" y1="517.375" x2="394.665881108855" y2="520.0749999999999" stroke="#1e1ee0" stroke-width="0.9"/>
<line x1="406.15586521141336" y1="519.58" x2="406.15586521141336" y2="522.28" stroke="#1e1ee0" stroke-width="0.9"/>
<line x1="413.8620079203931" y1="520.8" x2="413.8620079203931" y2="523.4999999999999" stroke="#1e1ee0" stroke-width="0.9"/>
<line x1="414.3974146345055" y1="521.1" x2="414.3974146345055" y2="523.8" stroke="#1e1ee0" stroke-width="0.9"/>
<line x1="415.69446694939404" y1="521.1" x2="415.69446694939404" y2="523.8" stroke="#1e1ee0" stroke-width="0.9"/>
<line x1="415.793966996049" y1="521.1" x2="415.793966996049" y2="523.8" stroke="#1e1ee0" stroke-width="0.9"/>
<line x1="417.5712998643887" y1="521.4" x2="417.5712998643887" y2="524.0999999999999" stroke="#1e1ee0" stroke-width="0.9"/>
<line x1="419.3584359523488" y1="521.7" x2="419.3584359523488" y2="524.4" stroke="#1e1ee0" stroke-width="0.9"/>
<line x1="426.2240986016647" y1="522.8000000000001" x2="426.2240986016647" y2="525.5" stroke="#1e1ee0" stroke-width="0.9"/>
<line x1="427.51983853283093" y1="522.8000000000001" x2="427.51983853283093" y2="525.5" stroke="#1e1ee0" stroke-width="0.9"/>
<line x1="431.3718594410781" y1="523.3333333333334" x2="431.3718594410781" y2="526.0333333333333" stroke="#1e1ee0" stroke-width="0.9"/>
<line x1="431.93129777127047" y1="523.3333333333334" x2="431.93129777127047" y2="526.0333333333333" stroke="#1e1ee0" stroke-width="0.9"/>
<line x1="438.0238183605587" y1="524.1333333333334" x2="438.0238183605587" y2="526.8333333333334" stroke="#1e1ee0" stroke-width="0.9"/>
<line x1="441.8720338721577" y1="524.8333333333334" x2="441.8720338721577" y2="527.5333333333333" stroke="#1e1ee0" stroke-width="0.9"/>
<line x1="445.6245595630759" y1="525.7" x2="445.6245595630759" y2="528.4" stroke="#1e1ee0" stroke-width="0.9"/>
<line x1="448.3270410991443" y1="526.1333333333333" x2="448.3270410991443" y2="528.8333333333333" stroke="#1e1ee0" stroke-width="0.9"/>
<line x1="448.6244685340074" y1="526.1333333333333" x2="448.6244685340074" y2="528.8333333333333" stroke="#1e1ee0" stroke-width="0.9"/>
<line x1="449.13714150706846" y1="526.5666666666667" x2="449.13714150706846" y2="529.2666666666667" stroke="#1e1ee0" stroke-width="0.9"/>
<line x1="450.60480998001236" y1="526.5666666666667" x2="450.60480998001236" y2="529.2666666666667" stroke="#1e1ee0" stroke-width="0.9"/>
<line x1="451.5895421769303" y1="527.0" x2="451.5895421769303" y2="529.6999999999999" stroke="#1e1ee0" stroke-width="0.9"/>
<line x1="454.4084142725808" y1="527.0" x2="454.4084142725808" y2="529.6999999999999" stroke="#1e1ee0" stroke-width="0.9"/>
<line x1="454.46821412598064" y1="527.0" x2="454.46821412598064" y2="529.6999999999999" stroke="#1e1ee0" stroke-width="0.9"/>
<line x1="457.40241774520206" y1="527.0" x2="457.40241774520206" y2="529.6999999999999" stroke="#1e1ee0" stroke-width="0.9"/>
<line x1="461.72058662439645" y1="527.0" x2="461.72058662439645" y2="529.6999999999999" stroke="#1e1ee0" stroke-width="0.9"/>
<line x1="463.6569265780441" y1="527.0" x2="463.6569265780441" y2="529.6999999999999" stroke="#1e1ee0" stroke-width="0.9"/>
<line x1="464.7665278055113" y1="527.0" x2="464.7665278055113" y2="529.6999999999999" stroke="#1e1ee0" stroke-width="0.9"/>
<line x1="464.9097470291266" y1="527.0" x2="464.9097470291266" y2="529.6999999999999" stroke="#1e1ee0" stroke-width="0.9"/>
<line x1="465.81958239046895" y1="527.0" x2="465.81958239046895" y2="529.6999999999999" stroke="#1e1ee0" stroke-width="0.9"/>
<line x1="298.9" y1="498.8" x2="306.5" y2="498.8" stroke="#4a3a6a" stroke-width="1.3"/>
<line x1="379.5" y1="530.4" x2="379.5" y2="532.8" stroke="#6a9a4c" stroke-width="0.8"/>
<line x1="390.5" y1="530.4" x2="390.5" y2="532.8" stroke="#6a9a4c" stroke-width="0.8"/>
<line x1="421" y1="556.6" x2="421" y2="559.0" stroke="#6a9a4c" stroke-width="0.8"/>
<line x1="427" y1="556.6" x2="427" y2="559.0" stroke="#6a9a4c" stroke-width="0.8"/>
<line x1="432" y1="556.6" x2="432" y2="559.0" stroke="#6a9a4c" stroke-width="0.8"/>
<line x1="446" y1="556.6" x2="446" y2="559.0" stroke="#6a9a4c" stroke-width="0.8"/>
<line x1="457" y1="556.6" x2="457" y2="559.0" stroke="#6a9a4c" stroke-width="0.8"/>
<line x1="462" y1="556.6" x2="462" y2="559.0" stroke="#6a9a4c" stroke-width="0.8"/>
<line x1="347.5" y1="523.8" x2="347.5" y2="526.1999999999999" stroke="#d83c3c" stroke-width="0.8"/>
<line x1="395.8" y1="558.9" x2="395.8" y2="561.3" stroke="#d83c3c" stroke-width="0.8"/>
<line x1="408" y1="558.9" x2="408" y2="561.3" stroke="#d83c3c" stroke-width="0.8"/>
<line x1="411" y1="558.9" x2="411" y2="561.3" stroke="#d83c3c" stroke-width="0.8"/>
<line x1="419" y1="558.9" x2="419" y2="561.3" stroke="#d83c3c" stroke-width="0.8"/>
<line x1="424" y1="558.9" x2="424" y2="561.3" stroke="#d83c3c" stroke-width="0.8"/>
<line x1="434" y1="558.9" x2="434" y2="561.3" stroke="#d83c3c" stroke-width="0.8"/>
<line x1="446" y1="558.9" x2="446" y2="561.3" stroke="#d83c3c" stroke-width="0.8"/>
<line x1="456" y1="558.9" x2="456" y2="561.3" stroke="#d83c3c" stroke-width="0.8"/>
<line x1="462" y1="558.9" x2="462" y2="561.3" stroke="#d83c3c" stroke-width="0.8"/>
<text x="7.0" y="663.3" font-size="14.3" text-anchor="start" fill="#111" stroke="#111" stroke-width="0.08" font-weight="bold">F</text>
<text x="150.0" y="675.2" font-size="6.3" text-anchor="middle" fill="#141414" stroke="#141414" stroke-width="0.08">PFS by PSMD4 discretized expression levels (2, 3, 4) (UARK98-026)</text>
<line x1="49.6" y1="679.7" x2="49.6" y2="790.7" stroke="#3a3a3a" stroke-width="1.1"/>
<line x1="49.6" y1="790.7" x2="249.6" y2="790.7" stroke="#3a3a3a" stroke-width="1.1"/>
<line x1="46.0" y1="790.7" x2="49.6" y2="790.7" stroke="#3a3a3a" stroke-width="1"/>
<text x="43.6" y="795.1" font-size="7.1" text-anchor="end" fill="#141414" stroke="#141414" stroke-width="0.08">0%</text>
<line x1="47.4" y1="779.6500000000001" x2="49.6" y2="779.6500000000001" stroke="#3a3a3a" stroke-width="1"/>
<line x1="46.0" y1="768.6" x2="49.6" y2="768.6" stroke="#3a3a3a" stroke-width="1"/>
<text x="43.6" y="773.0" font-size="7.1" text-anchor="end" fill="#141414" stroke="#141414" stroke-width="0.08">20%</text>
<line x1="47.4" y1="757.5500000000001" x2="49.6" y2="757.5500000000001" stroke="#3a3a3a" stroke-width="1"/>
<line x1="46.0" y1="746.5" x2="49.6" y2="746.5" stroke="#3a3a3a" stroke-width="1"/>
<text x="43.6" y="750.9" font-size="7.1" text-anchor="end" fill="#141414" stroke="#141414" stroke-width="0.08">40%</text>
<line x1="47.4" y1="735.45" x2="49.6" y2="735.45" stroke="#3a3a3a" stroke-width="1"/>
<line x1="46.0" y1="724.4000000000001" x2="49.6" y2="724.4000000000001" stroke="#3a3a3a" stroke-width="1"/>
<text x="43.6" y="728.8000000000001" font-size="7.1" text-anchor="end" fill="#141414" stroke="#141414" stroke-width="0.08">60%</text>
<line x1="47.4" y1="713.35" x2="49.6" y2="713.35" stroke="#3a3a3a" stroke-width="1"/>
<line x1="46.0" y1="702.3000000000001" x2="49.6" y2="702.3000000000001" stroke="#3a3a3a" stroke-width="1"/>
<text x="43.6" y="706.7" font-size="7.1" text-anchor="end" fill="#141414" stroke="#141414" stroke-width="0.08">80%</text>
<line x1="47.4" y1="691.25" x2="49.6" y2="691.25" stroke="#3a3a3a" stroke-width="1"/>
<line x1="46.0" y1="680.2" x2="49.6" y2="680.2" stroke="#3a3a3a" stroke-width="1"/>
<text x="43.6" y="684.6" font-size="7.1" text-anchor="end" fill="#141414" stroke="#141414" stroke-width="0.08">100%</text>
<line x1="49.6" y1="790.7" x2="49.6" y2="793.3000000000001" stroke="#3a3a3a" stroke-width="1"/>
<text x="49.6" y="802.6" font-size="7.5" text-anchor="middle" fill="#141414" stroke="#141414" stroke-width="0.08">0</text>
<line x1="66.26666666666667" y1="790.7" x2="66.26666666666667" y2="793.3000000000001" stroke="#3a3a3a" stroke-width="1"/>
<line x1="82.93333333333334" y1="790.7" x2="82.93333333333334" y2="793.3000000000001" stroke="#3a3a3a" stroke-width="1"/>
<line x1="99.6" y1="790.7" x2="99.6" y2="793.3000000000001" stroke="#3a3a3a" stroke-width="1"/>
<text x="99.6" y="802.6" font-size="7.5" text-anchor="middle" fill="#141414" stroke="#141414" stroke-width="0.08">3</text>
<line x1="116.26666666666668" y1="790.7" x2="116.26666666666668" y2="793.3000000000001" stroke="#3a3a3a" stroke-width="1"/>
<line x1="132.93333333333334" y1="790.7" x2="132.93333333333334" y2="793.3000000000001" stroke="#3a3a3a" stroke-width="1"/>
<line x1="149.6" y1="790.7" x2="149.6" y2="793.3000000000001" stroke="#3a3a3a" stroke-width="1"/>
<text x="149.6" y="802.6" font-size="7.5" text-anchor="middle" fill="#141414" stroke="#141414" stroke-width="0.08">6</text>
<line x1="166.26666666666668" y1="790.7" x2="166.26666666666668" y2="793.3000000000001" stroke="#3a3a3a" stroke-width="1"/>
<line x1="182.93333333333334" y1="790.7" x2="182.93333333333334" y2="793.3000000000001" stroke="#3a3a3a" stroke-width="1"/>
<line x1="199.6" y1="790.7" x2="199.6" y2="793.3000000000001" stroke="#3a3a3a" stroke-width="1"/>
<text x="199.6" y="802.6" font-size="7.5" text-anchor="middle" fill="#141414" stroke="#141414" stroke-width="0.08">9</text>
<line x1="216.26666666666668" y1="790.7" x2="216.26666666666668" y2="793.3000000000001" stroke="#3a3a3a" stroke-width="1"/>
<line x1="232.93333333333334" y1="790.7" x2="232.93333333333334" y2="793.3000000000001" stroke="#3a3a3a" stroke-width="1"/>
<line x1="249.6" y1="790.7" x2="249.6" y2="793.3000000000001" stroke="#3a3a3a" stroke-width="1"/>
<text x="249.6" y="802.6" font-size="7.5" text-anchor="middle" fill="#141414" stroke="#141414" stroke-width="0.08">12</text>
<text x="51.900000000000006" y="770.8" font-size="6.4" text-anchor="start" fill="#2f2fc4" stroke="#2f2fc4" stroke-width="0.08" fill-opacity="0.8">a</text>
<text x="58.7" y="770.8" font-size="6.4" text-anchor="start" fill="#2f2fc4" stroke="#2f2fc4" stroke-width="0.08">PSMD4 level 2</text>
<text x="132.8" y="770.8" font-size="6.4" text-anchor="middle" fill="#2f2fc4" stroke="#2f2fc4" stroke-width="0.08">212 / 322</text>
<text x="182.8" y="770.8" font-size="6.4" text-anchor="middle" fill="#2f2fc4" stroke="#2f2fc4" stroke-width="0.08" xml:space="preserve">78%  (74, 83)</text>
<text x="51.900000000000006" y="776.5999999999999" font-size="6.4" text-anchor="start" fill="#5a9e3e" stroke="#5a9e3e" stroke-width="0.08" fill-opacity="0.8">b</text>
<text x="58.7" y="776.5999999999999" font-size="6.4" text-anchor="start" fill="#5a9e3e" stroke="#5a9e3e" stroke-width="0.08">PSMD4 level 3</text>
<text x="132.8" y="776.5999999999999" font-size="6.4" text-anchor="middle" fill="#5a9e3e" stroke="#5a9e3e" stroke-width="0.08">5 / 6</text>
<text x="182.8" y="776.5999999999999" font-size="6.4" text-anchor="middle" fill="#5a9e3e" stroke="#5a9e3e" stroke-width="0.08" xml:space="preserve">33%  (4, 63)</text>
<text x="51.900000000000006" y="782.5999999999999" font-size="6.4" text-anchor="start" fill="#d03434" stroke="#d03434" stroke-width="0.08" fill-opacity="0.8">c</text>
<text x="58.7" y="782.5999999999999" font-size="6.4" text-anchor="start" fill="#d03434" stroke="#d03434" stroke-width="0.08">PSMD4 level 4</text>
<text x="132.8" y="782.5999999999999" font-size="6.4" text-anchor="middle" fill="#d03434" stroke="#d03434" stroke-width="0.08">17 / 23</text>
<text x="182.8" y="782.5999999999999" font-size="6.4" text-anchor="middle" fill="#d03434" stroke="#d03434" stroke-width="0.08" xml:space="preserve">39%  (20, 59)</text>
<text x="132.8" y="765.3000000000001" font-size="6.4" text-anchor="middle" fill="#141414" stroke="#141414" stroke-width="0.08">Progressions / N</text>
<text x="182.8" y="759.0" font-size="6.4" text-anchor="middle" fill="#141414" stroke="#141414" stroke-width="0.08">2-Year</text>
<text x="182.8" y="765.3000000000001" font-size="6.4" text-anchor="middle" fill="#141414" stroke="#141414" stroke-width="0.08">Estimate</text>
<text x="96.5" y="788.5" font-size="6.35" text-anchor="start" fill="#141414" stroke="#141414" stroke-width="0.08">Logrank P-value = .01</text>
<text x="150" y="807.7" font-size="7.0" text-anchor="middle" fill="#1a1a1a" stroke="#1a1a1a" stroke-width="0.12">Years After Enrollment</text>
<polyline points="49.60,680.20 51.90,680.20 51.90,681.53 54.20,681.53 54.20,682.87 56.50,682.87 56.50,684.20 58.52,684.20 58.52,685.95 60.55,685.95 60.55,687.70 62.57,687.70 62.57,689.45 64.60,689.45 64.60,691.20 67.50,691.20 67.50,692.35 70.40,692.35 70.40,693.50 72.70,693.50 72.70,695.80 75.00,695.80 75.00,698.10 77.30,698.10 77.30,700.40 79.60,700.40 79.60,702.70 82.50,702.70 82.50,704.45 85.40,704.45 85.40,706.20 87.43,706.20 87.43,707.62 89.45,707.62 89.45,709.05 91.47,709.05 91.47,710.48 93.50,710.48 93.50,711.90 95.67,711.90 95.67,713.57 97.83,713.57 97.83,715.23 100.00,715.23 100.00,716.90 102.57,716.90 102.57,718.97 105.13,718.97 105.13,721.03 107.70,721.03 107.70,723.10 110.00,723.10 110.00,725.02 112.30,725.02 112.30,726.95 114.60,726.95 114.60,728.88 116.90,728.88 116.90,730.80 118.93,730.80 118.93,731.65 120.95,731.65 120.95,732.50 122.97,732.50 122.97,733.35 125.00,733.35 125.00,734.20 127.90,734.20 127.90,735.55 130.80,735.55 130.80,736.90 133.00,736.90 133.00,737.79 135.20,737.79 135.20,738.67 137.40,738.67 137.40,739.56 139.60,739.56 139.60,740.44 141.80,740.44 141.80,741.33 144.00,741.33 144.00,742.21 146.20,742.21 146.20,743.10 148.39,743.10 148.39,743.76 150.57,743.76 150.57,744.41 152.76,744.41 152.76,745.07 154.94,745.07 154.94,745.73" fill="none" stroke="#3434d4" stroke-width="1.15"/>
<polyline points="154.94,745.73 157.13,745.73 157.13,746.39 159.31,746.39 159.31,747.04 161.50,747.04 161.50,747.70 163.62,747.70 163.62,747.93 165.75,747.93 165.75,748.15 167.88,748.15 167.88,748.38 170.00,748.38 170.00,748.60 172.30,748.60 172.30,749.03 174.60,749.03 174.60,749.47 176.90,749.47 176.90,749.90 179.20,749.90 179.20,750.33 181.50,750.33 181.50,750.77 183.80,750.77 183.80,751.20 185.98,751.20 185.98,751.62 188.15,751.62 188.15,752.05 190.32,752.05 190.32,752.48 192.50,752.48 192.50,752.90 195.10,752.90 195.10,755.20 197.70,755.20 197.70,757.50 200.30,757.50 200.30,759.80 224.00,759.80" fill="none" stroke="#1e1ee0" stroke-width="2.1"/>
<polyline points="49.60,680.20 50.20,680.20 50.20,689.40 51.90,689.40 51.90,698.70 58.80,698.70 58.80,717.10 59.90,717.10 59.90,735.00 68.50,735.00 68.50,753.80 129.50,753.80 129.50,772.30 163.10,772.30" fill="none" stroke="#6a9a4c" stroke-width="1.1"/>
<polyline points="49.60,680.20 50.80,680.20 50.80,689.40 56.50,689.40 56.50,698.70 62.30,698.70 62.30,706.00 63.50,706.00 63.50,713.00 65.50,713.00 65.50,718.50 67.80,718.50 67.80,723.00 72.70,723.00 72.70,728.00 75.00,728.00 75.00,738.00 77.30,738.00 77.30,742.70 81.20,742.70 81.20,747.30 122.10,747.30 122.10,752.30 143.80,752.30 143.80,757.70 170.80,757.70 170.80,764.60 178.00,764.60" fill="none" stroke="#d83c3c" stroke-width="1.1"/>
<line x1="131.0770037182366" y1="735.1" x2="131.0770037182366" y2="737.8" stroke="#1e1ee0" stroke-width="0.9"/>
<line x1="131.88497168863233" y1="735.1" x2="131.88497168863233" y2="737.8" stroke="#1e1ee0" stroke-width="0.9"/>
<line x1="132.08515208513612" y1="735.1" x2="132.08515208513612" y2="737.8" stroke="#1e1ee0" stroke-width="0.9"/>
<line x1="133.9889675237932" y1="735.9857142857143" x2="133.9889675237932" y2="738.6857142857142" stroke="#1e1ee0" stroke-width="0.9"/>
<line x1="135.64756799900596" y1="736.8714285714286" x2="135.64756799900596" y2="739.5714285714286" stroke="#1e1ee0" stroke-width="0.9"/>
<line x1="135.69421954270496" y1="736.8714285714286" x2="135.69421954270496" y2="739.5714285714286" stroke="#1e1ee0" stroke-width="0.9"/>
<line x1="144.68270515527507" y1="740.4142857142858" x2="144.68270515527507" y2="743.1142857142858" stroke="#1e1ee0" stroke-width="0.9"/>
<line x1="152.3377482296897" y1="742.6142857142858" x2="152.3377482296897" y2="745.3142857142857" stroke="#1e1ee0" stroke-width="0.9"/>
<line x1="158.30216495037004" y1="744.5857142857144" x2="158.30216495037004" y2="747.2857142857143" stroke="#1e1ee0" stroke-width="0.9"/>
<line x1="159.50006887211262" y1="745.2428571428572" x2="159.50006887211262" y2="747.9428571428572" stroke="#1e1ee0" stroke-width="0.9"/>
<line x1="163.14223640585845" y1="745.9000000000001" x2="163.14223640585845" y2="748.6" stroke="#1e1ee0" stroke-width="0.9"/>
<line x1="165.51218850474515" y1="746.1250000000001" x2="165.51218850474515" y2="748.825" stroke="#1e1ee0" stroke-width="0.9"/>
<line x1="169.0297723175649" y1="746.575" x2="169.0297723175649" y2="749.275" stroke="#1e1ee0" stroke-width="0.9"/>
<line x1="170.5320060225077" y1="746.8000000000001" x2="170.5320060225077" y2="749.5" stroke="#1e1ee0" stroke-width="0.9"/>
<line x1="173.27850548751505" y1="747.2333333333333" x2="173.27850548751505" y2="749.9333333333333" stroke="#1e1ee0" stroke-width="0.9"/>
<line x1="173.82754039149054" y1="747.2333333333333" x2="173.82754039149054" y2="749.9333333333333" stroke="#1e1ee0" stroke-width="0.9"/>
<line x1="177.66052069889201" y1="748.1000000000001" x2="177.66052069889201" y2="750.8000000000001" stroke="#1e1ee0" stroke-width="0.9"/>
<line x1="178.886860551701" y1="748.1000000000001" x2="178.886860551701" y2="750.8000000000001" stroke="#1e1ee0" stroke-width="0.9"/>
<line x1="178.98596556843336" y1="748.1000000000001" x2="178.98596556843336" y2="750.8000000000001" stroke="#1e1ee0" stroke-width="0.9"/>
<line x1="181.55246396256504" y1="748.9666666666667" x2="181.55246396256504" y2="751.6666666666666" stroke="#1e1ee0" stroke-width="0.9"/>
<line x1="182.57053982944672" y1="748.9666666666667" x2="182.57053982944672" y2="751.6666666666666" stroke="#1e1ee0" stroke-width="0.9"/>
<line x1="184.51673009692416" y1="749.4000000000001" x2="184.51673009692416" y2="752.1" stroke="#1e1ee0" stroke-width="0.9"/>
<line x1="185.99112240978522" y1="749.825" x2="185.99112240978522" y2="752.525" stroke="#1e1ee0" stroke-width="0.9"/>
<line x1="187.3839095589301" y1="749.825" x2="187.3839095589301" y2="752.525" stroke="#1e1ee0" stroke-width="0.9"/>
<line x1="187.88500648278813" y1="749.825" x2="187.88500648278813" y2="752.525" stroke="#1e1ee0" stroke-width="0.9"/>
<line x1="188.29185673185464" y1="750.25" x2="188.29185673185464" y2="752.9499999999999" stroke="#1e1ee0" stroke-width="0.9"/>
<line x1="188.97006424702985" y1="750.25" x2="188.97006424702985" y2="752.9499999999999" stroke="#1e1ee0" stroke-width="0.9"/>
<line x1="189.42497031783483" y1="750.25" x2="189.42497031783483" y2="752.9499999999999" stroke="#1e1ee0" stroke-width="0.9"/>
<line x1="190.52553952844633" y1="750.6750000000001" x2="190.52553952844633" y2="753.375" stroke="#1e1ee0" stroke-width="0.9"/>
<line x1="193.54590909181343" y1="751.1" x2="193.54590909181343" y2="753.8" stroke="#1e1ee0" stroke-width="0.9"/>
<line x1="193.8524514155822" y1="751.1" x2="193.8524514155822" y2="753.8" stroke="#1e1ee0" stroke-width="0.9"/>
<line x1="196.4533234403945" y1="753.4" x2="196.4533234403945" y2="756.0999999999999" stroke="#1e1ee0" stroke-width="0.9"/>
<line x1="197.709257701549" y1="755.7" x2="197.709257701549" y2="758.4" stroke="#1e1ee0" stroke-width="0.9"/>
<line x1="199.3752231896912" y1="755.7" x2="199.3752231896912" y2="758.4" stroke="#1e1ee0" stroke-width="0.9"/>
<line x1="211.5712291892059" y1="758.0" x2="211.5712291892059" y2="760.6999999999999" stroke="#1e1ee0" stroke-width="0.9"/>
<line x1="214.28600629419455" y1="758.0" x2="214.28600629419455" y2="760.6999999999999" stroke="#1e1ee0" stroke-width="0.9"/>
<line x1="218.41839800985252" y1="758.0" x2="218.41839800985252" y2="760.6999999999999" stroke="#1e1ee0" stroke-width="0.9"/>
<line x1="220.11398608239477" y1="758.0" x2="220.11398608239477" y2="760.6999999999999" stroke="#1e1ee0" stroke-width="0.9"/>
<line x1="220.55072455630818" y1="758.0" x2="220.55072455630818" y2="760.6999999999999" stroke="#1e1ee0" stroke-width="0.9"/>
<line x1="221.9129477461717" y1="758.0" x2="221.9129477461717" y2="760.6999999999999" stroke="#1e1ee0" stroke-width="0.9"/>
<line x1="163" y1="770.0999999999999" x2="163" y2="773.4" stroke="#6a9a4c" stroke-width="0.8"/>
<line x1="143.8" y1="756.1" x2="143.8" y2="758.5" stroke="#d83c3c" stroke-width="0.8"/>
<text x="406.3" y="675.2" font-size="6.3" text-anchor="middle" fill="#141414" stroke="#141414" stroke-width="0.08">OS by PSMD4 discretized expression levels (2, 3, 4) (UARK98-026)</text>
<line x1="306.0" y1="679.2" x2="306.0" y2="790.6" stroke="#3a3a3a" stroke-width="1.1"/>
<line x1="306.0" y1="790.6" x2="506.0" y2="790.6" stroke="#3a3a3a" stroke-width="1.1"/>
<line x1="302.4" y1="790.6" x2="306.0" y2="790.6" stroke="#3a3a3a" stroke-width="1"/>
<text x="300.3" y="795.0" font-size="7.1" text-anchor="end" fill="#141414" stroke="#141414" stroke-width="0.08">0%</text>
<line x1="303.8" y1="779.51" x2="306.0" y2="779.51" stroke="#3a3a3a" stroke-width="1"/>
<line x1="302.4" y1="768.4200000000001" x2="306.0" y2="768.4200000000001" stroke="#3a3a3a" stroke-width="1"/>
<text x="300.3" y="772.82" font-size="7.1" text-anchor="end" fill="#141414" stroke="#141414" stroke-width="0.08">20%</text>
<line x1="303.8" y1="757.33" x2="306.0" y2="757.33" stroke="#3a3a3a" stroke-width="1"/>
<line x1="302.4" y1="746.24" x2="306.0" y2="746.24" stroke="#3a3a3a" stroke-width="1"/>
<text x="300.3" y="750.64" font-size="7.1" text-anchor="end" fill="#141414" stroke="#141414" stroke-width="0.08">40%</text>
<line x1="303.8" y1="735.1500000000001" x2="306.0" y2="735.1500000000001" stroke="#3a3a3a" stroke-width="1"/>
<line x1="302.4" y1="724.0600000000001" x2="306.0" y2="724.0600000000001" stroke="#3a3a3a" stroke-width="1"/>
<text x="300.3" y="728.46" font-size="7.1" text-anchor="end" fill="#141414" stroke="#141414" stroke-width="0.08">60%</text>
<line x1="303.8" y1="712.97" x2="306.0" y2="712.97" stroke="#3a3a3a" stroke-width="1"/>
<line x1="302.4" y1="701.88" x2="306.0" y2="701.88" stroke="#3a3a3a" stroke-width="1"/>
<text x="300.3" y="706.28" font-size="7.1" text-anchor="end" fill="#141414" stroke="#141414" stroke-width="0.08">80%</text>
<line x1="303.8" y1="690.7900000000001" x2="306.0" y2="690.7900000000001" stroke="#3a3a3a" stroke-width="1"/>
<line x1="302.4" y1="679.7" x2="306.0" y2="679.7" stroke="#3a3a3a" stroke-width="1"/>
<text x="300.3" y="684.1" font-size="7.1" text-anchor="end" fill="#141414" stroke="#141414" stroke-width="0.08">100%</text>
<line x1="306.0" y1="790.6" x2="306.0" y2="793.2" stroke="#3a3a3a" stroke-width="1"/>
<text x="306.0" y="802.5" font-size="7.5" text-anchor="middle" fill="#141414" stroke="#141414" stroke-width="0.08">0</text>
<line x1="322.6666666666667" y1="790.6" x2="322.6666666666667" y2="793.2" stroke="#3a3a3a" stroke-width="1"/>
<line x1="339.3333333333333" y1="790.6" x2="339.3333333333333" y2="793.2" stroke="#3a3a3a" stroke-width="1"/>
<line x1="356.0" y1="790.6" x2="356.0" y2="793.2" stroke="#3a3a3a" stroke-width="1"/>
<text x="356.0" y="802.5" font-size="7.5" text-anchor="middle" fill="#141414" stroke="#141414" stroke-width="0.08">3</text>
<line x1="372.6666666666667" y1="790.6" x2="372.6666666666667" y2="793.2" stroke="#3a3a3a" stroke-width="1"/>
<line x1="389.33333333333337" y1="790.6" x2="389.33333333333337" y2="793.2" stroke="#3a3a3a" stroke-width="1"/>
<line x1="406.0" y1="790.6" x2="406.0" y2="793.2" stroke="#3a3a3a" stroke-width="1"/>
<text x="406.0" y="802.5" font-size="7.5" text-anchor="middle" fill="#141414" stroke="#141414" stroke-width="0.08">6</text>
<line x1="422.6666666666667" y1="790.6" x2="422.6666666666667" y2="793.2" stroke="#3a3a3a" stroke-width="1"/>
<line x1="439.33333333333337" y1="790.6" x2="439.33333333333337" y2="793.2" stroke="#3a3a3a" stroke-width="1"/>
<line x1="456.0" y1="790.6" x2="456.0" y2="793.2" stroke="#3a3a3a" stroke-width="1"/>
<text x="456.0" y="802.5" font-size="7.5" text-anchor="middle" fill="#141414" stroke="#141414" stroke-width="0.08">9</text>
<line x1="472.6666666666667" y1="790.6" x2="472.6666666666667" y2="793.2" stroke="#3a3a3a" stroke-width="1"/>
<line x1="489.33333333333337" y1="790.6" x2="489.33333333333337" y2="793.2" stroke="#3a3a3a" stroke-width="1"/>
<line x1="506.0" y1="790.6" x2="506.0" y2="793.2" stroke="#3a3a3a" stroke-width="1"/>
<text x="506.0" y="802.5" font-size="7.5" text-anchor="middle" fill="#141414" stroke="#141414" stroke-width="0.08">12</text>
<text x="308.3" y="769.9" font-size="6.4" text-anchor="start" fill="#2f2fc4" stroke="#2f2fc4" stroke-width="0.08" fill-opacity="0.8">a</text>
<text x="315.1" y="769.9" font-size="6.4" text-anchor="start" fill="#2f2fc4" stroke="#2f2fc4" stroke-width="0.08">PSMD4 level 2</text>
<text x="385.1" y="769.9" font-size="6.4" text-anchor="middle" fill="#2f2fc4" stroke="#2f2fc4" stroke-width="0.08">135 / 322</text>
<text x="425.6" y="769.9" font-size="6.4" text-anchor="middle" fill="#2f2fc4" stroke="#2f2fc4" stroke-width="0.08" xml:space="preserve">87%  (84, 91)</text>
<text x="308.3" y="776.9" font-size="6.4" text-anchor="start" fill="#5a9e3e" stroke="#5a9e3e" stroke-width="0.08" fill-opacity="0.8">b</text>
<text x="315.1" y="776.9" font-size="6.4" text-anchor="start" fill="#5a9e3e" stroke="#5a9e3e" stroke-width="0.08">PSMD4 level 3</text>
<text x="385.1" y="776.9" font-size="6.4" text-anchor="middle" fill="#5a9e3e" stroke="#5a9e3e" stroke-width="0.08">5 / 6</text>
<text x="425.6" y="776.9" font-size="6.4" text-anchor="middle" fill="#5a9e3e" stroke="#5a9e3e" stroke-width="0.08" xml:space="preserve">50%  (12, 88)</text>
<text x="308.3" y="782.9" font-size="6.4" text-anchor="start" fill="#d03434" stroke="#d03434" stroke-width="0.08" fill-opacity="0.8">c</text>
<text x="315.1" y="782.9" font-size="6.4" text-anchor="start" fill="#d03434" stroke="#d03434" stroke-width="0.08">PSMD4 level 4</text>
<text x="385.1" y="782.9" font-size="6.4" text-anchor="middle" fill="#d03434" stroke="#d03434" stroke-width="0.08">13 / 23</text>
<text x="425.6" y="782.9" font-size="6.4" text-anchor="middle" fill="#d03434" stroke="#d03434" stroke-width="0.08" xml:space="preserve">70%  (50, 89)</text>
<text x="385.1" y="764.4" font-size="6.4" text-anchor="middle" fill="#141414" stroke="#141414" stroke-width="0.08">Deaths / N</text>
<text x="425.6" y="757.9000000000001" font-size="6.4" text-anchor="middle" fill="#141414" stroke="#141414" stroke-width="0.08">2-Year</text>
<text x="425.6" y="764.4" font-size="6.4" text-anchor="middle" fill="#141414" stroke="#141414" stroke-width="0.08">Estimate</text>
<text x="344.7" y="789.0999999999999" font-size="6.2" text-anchor="start" fill="#141414" stroke="#141414" stroke-width="0.08">Logrank P-value = .001</text>
<text x="406" y="807.9" font-size="7.0" text-anchor="middle" fill="#1a1a1a" stroke="#1a1a1a" stroke-width="0.12">Years After Enrollment</text>
<polyline points="306.00,679.70 308.60,679.70 308.60,680.83 311.20,680.83 311.20,681.97 313.80,681.97 313.80,683.10 316.37,683.10 316.37,684.13 318.93,684.13 318.93,685.17 321.50,685.17 321.50,686.20 323.62,686.20 323.62,687.15 325.75,687.15 325.75,688.10 327.88,688.10 327.88,689.05 330.00,689.05 330.00,690.00 332.00,690.00 332.00,690.92 334.00,690.92 334.00,691.84 336.00,691.84 336.00,692.76 338.00,692.76 338.00,693.68 340.00,693.68 340.00,694.60 342.70,694.60 342.70,695.75 345.40,695.75 345.40,696.90 347.60,696.90 347.60,697.79 349.80,697.79 349.80,698.67 352.00,698.67 352.00,699.56 354.20,699.56 354.20,700.44 356.40,700.44 356.40,701.33 358.60,701.33 358.60,702.21 360.80,702.21 360.80,703.10 363.00,703.10 363.00,703.97 365.20,703.97 365.20,704.84 367.40,704.84 367.40,705.71 369.60,705.71 369.60,706.59 371.80,706.59 371.80,707.46 374.00,707.46 374.00,708.33 376.20,708.33 376.20,709.20 378.21,709.20 378.21,709.78 380.23,709.78 380.23,710.35 382.24,710.35 382.24,710.92 384.25,710.92 384.25,711.50" fill="none" stroke="#3434d4" stroke-width="1.15"/>
<polyline points="384.25,711.50 386.26,711.50 386.26,712.08 388.27,712.08 388.27,712.65 390.29,712.65 390.29,713.22 392.30,713.22 392.30,713.80 394.36,713.80 394.36,714.32 396.41,714.32 396.41,714.84 398.47,714.84 398.47,715.37 400.52,715.37 400.52,715.89 402.58,715.89 402.58,716.41 404.63,716.41 404.63,716.93 406.69,716.93 406.69,717.46 408.74,717.46 408.74,717.98 410.80,717.98 410.80,718.50 413.00,718.50 413.00,718.83 415.20,718.83 415.20,719.16 417.40,719.16 417.40,719.49 419.60,719.49 419.60,719.81 421.80,719.81 421.80,720.14 424.00,720.14 424.00,720.47 426.20,720.47 426.20,720.80 428.39,720.80 428.39,721.13 430.57,721.13 430.57,721.46 432.76,721.46 432.76,721.79 434.94,721.79 434.94,722.11 437.13,722.11 437.13,722.44 439.31,722.44 439.31,722.77 441.50,722.77 441.50,723.10 444.60,723.10 444.60,723.80 447.70,723.80 447.70,726.20 450.00,726.20 450.00,727.35 452.30,727.35 452.30,728.50 455.40,728.50 455.40,731.50 457.43,731.50 457.43,732.03 459.47,732.03 459.47,732.57 461.50,732.57 461.50,733.10 463.80,733.10 463.80,735.40 480.80,735.40" fill="none" stroke="#1e1ee0" stroke-width="2.1"/>
<polyline points="306.00,679.70 314.60,679.70 314.60,698.50 316.90,698.50 316.90,716.60 326.50,716.60 326.50,735.00 391.50,735.00 391.50,753.30 396.70,753.30 396.70,772.30 419.10,772.30" fill="none" stroke="#6a9a4c" stroke-width="1.1"/>
<polyline points="306.00,679.70 313.80,679.70 313.80,689.20 321.50,689.20 321.50,698.50 327.70,698.50 327.70,703.80 330.80,703.80 330.80,707.70 333.10,707.70 333.10,713.10 343.80,713.10 343.80,718.20 355.40,718.20 356.50,718.20 356.50,722.00 357.50,722.00 357.50,725.00 358.50,725.00 358.50,727.70 359.20,727.70 359.20,733.10 366.90,733.10 366.90,737.20 376.90,737.20 376.90,742.30 439.70,742.30" fill="none" stroke="#d83c3c" stroke-width="1.1"/>
<line x1="371.0420961660543" y1="704.7857142857143" x2="371.0420961660543" y2="707.4857142857143" stroke="#1e1ee0" stroke-width="0.9"/>
<line x1="379.5081112674015" y1="707.9750000000001" x2="379.5081112674015" y2="710.6750000000001" stroke="#1e1ee0" stroke-width="0.9"/>
<line x1="381.66388369226235" y1="708.5500000000001" x2="381.66388369226235" y2="711.25" stroke="#1e1ee0" stroke-width="0.9"/>
<line x1="387.1291182788772" y1="710.2750000000001" x2="387.1291182788772" y2="712.975" stroke="#1e1ee0" stroke-width="0.9"/>
<line x1="388.7452534034939" y1="710.85" x2="388.7452534034939" y2="713.55" stroke="#1e1ee0" stroke-width="0.9"/>
<line x1="389.1755605237274" y1="710.85" x2="389.1755605237274" y2="713.55" stroke="#1e1ee0" stroke-width="0.9"/>
<line x1="389.56083006121906" y1="710.85" x2="389.56083006121906" y2="713.55" stroke="#1e1ee0" stroke-width="0.9"/>
<line x1="393.14677623563057" y1="712.0" x2="393.14677623563057" y2="714.6999999999999" stroke="#1e1ee0" stroke-width="0.9"/>
<line x1="393.428146227686" y1="712.0" x2="393.428146227686" y2="714.6999999999999" stroke="#1e1ee0" stroke-width="0.9"/>
<line x1="394.9725549894561" y1="712.5222222222222" x2="394.9725549894561" y2="715.2222222222222" stroke="#1e1ee0" stroke-width="0.9"/>
<line x1="396.3768174347321" y1="712.5222222222222" x2="396.3768174347321" y2="715.2222222222222" stroke="#1e1ee0" stroke-width="0.9"/>
<line x1="399.4809120478659" y1="713.5666666666667" x2="399.4809120478659" y2="716.2666666666667" stroke="#1e1ee0" stroke-width="0.9"/>
<line x1="401.9456489903116" y1="714.088888888889" x2="401.9456489903116" y2="716.7888888888889" stroke="#1e1ee0" stroke-width="0.9"/>
<line x1="403.03188658134053" y1="714.6111111111111" x2="403.03188658134053" y2="717.311111111111" stroke="#1e1ee0" stroke-width="0.9"/>
<line x1="403.33178471525093" y1="714.6111111111111" x2="403.33178471525093" y2="717.311111111111" stroke="#1e1ee0" stroke-width="0.9"/>
<line x1="404.16286858952475" y1="714.6111111111111" x2="404.16286858952475" y2="717.311111111111" stroke="#1e1ee0" stroke-width="0.9"/>
<line x1="404.3821562622029" y1="714.6111111111111" x2="404.3821562622029" y2="717.311111111111" stroke="#1e1ee0" stroke-width="0.9"/>
<line x1="405.7141625007003" y1="715.1333333333333" x2="405.7141625007003" y2="717.8333333333333" stroke="#1e1ee0" stroke-width="0.9"/>
<line x1="406.04825656007154" y1="715.1333333333333" x2="406.04825656007154" y2="717.8333333333333" stroke="#1e1ee0" stroke-width="0.9"/>
<line x1="409.1269250954151" y1="716.1777777777778" x2="409.1269250954151" y2="718.8777777777777" stroke="#1e1ee0" stroke-width="0.9"/>
<line x1="409.7143992062958" y1="716.1777777777778" x2="409.7143992062958" y2="718.8777777777777" stroke="#1e1ee0" stroke-width="0.9"/>
<line x1="410.6191185701676" y1="716.1777777777778" x2="410.6191185701676" y2="718.8777777777777" stroke="#1e1ee0" stroke-width="0.9"/>
<line x1="417.18147822020876" y1="717.3571428571429" x2="417.18147822020876" y2="720.0571428571428" stroke="#1e1ee0" stroke-width="0.9"/>
<line x1="417.5426727794367" y1="717.6857142857143" x2="417.5426727794367" y2="720.3857142857142" stroke="#1e1ee0" stroke-width="0.9"/>
<line x1="418.9745468242302" y1="717.6857142857143" x2="418.9745468242302" y2="720.3857142857142" stroke="#1e1ee0" stroke-width="0.9"/>
<line x1="419.5632706489109" y1="717.6857142857143" x2="419.5632706489109" y2="720.3857142857142" stroke="#1e1ee0" stroke-width="0.9"/>
<line x1="427.84792199884845" y1="719.0" x2="427.84792199884845" y2="721.6999999999999" stroke="#1e1ee0" stroke-width="0.9"/>
<line x1="432.3261542339758" y1="719.6571428571428" x2="432.3261542339758" y2="722.3571428571428" stroke="#1e1ee0" stroke-width="0.9"/>
<line x1="434.9719219503133" y1="720.3142857142858" x2="434.9719219503133" y2="723.0142857142857" stroke="#1e1ee0" stroke-width="0.9"/>
<line x1="435.3052301619016" y1="720.3142857142858" x2="435.3052301619016" y2="723.0142857142857" stroke="#1e1ee0" stroke-width="0.9"/>
<line x1="441.47625852105193" y1="720.9714285714286" x2="441.47625852105193" y2="723.6714285714286" stroke="#1e1ee0" stroke-width="0.9"/>
<line x1="446.88150395425805" y1="722.0" x2="446.88150395425805" y2="724.6999999999999" stroke="#1e1ee0" stroke-width="0.9"/>
<line x1="451.0745695296716" y1="725.5500000000001" x2="451.0745695296716" y2="728.25" stroke="#1e1ee0" stroke-width="0.9"/>
<line x1="455.2668956061857" y1="726.7" x2="455.2668956061857" y2="729.4" stroke="#1e1ee0" stroke-width="0.9"/>
<line x1="458.8302667546252" y1="730.2333333333333" x2="458.8302667546252" y2="732.9333333333333" stroke="#1e1ee0" stroke-width="0.9"/>
<line x1="459.1658278516767" y1="730.2333333333333" x2="459.1658278516767" y2="732.9333333333333" stroke="#1e1ee0" stroke-width="0.9"/>
<line x1="462.1898947459759" y1="731.3000000000001" x2="462.1898947459759" y2="734.0" stroke="#1e1ee0" stroke-width="0.9"/>
<line x1="462.7478308301895" y1="731.3000000000001" x2="462.7478308301895" y2="734.0" stroke="#1e1ee0" stroke-width="0.9"/>
<line x1="464.67547692029217" y1="733.6" x2="464.67547692029217" y2="736.3" stroke="#1e1ee0" stroke-width="0.9"/>
<line x1="467.99350472710563" y1="733.6" x2="467.99350472710563" y2="736.3" stroke="#1e1ee0" stroke-width="0.9"/>
<line x1="306" y1="679.7" x2="313.5" y2="679.7" stroke="#7a5a4a" stroke-width="1.2"/>
<line x1="419" y1="770.0999999999999" x2="419" y2="773.4" stroke="#6a9a4c" stroke-width="0.8"/>
<line x1="400.8" y1="740.6999999999999" x2="400.8" y2="743.0999999999999" stroke="#d83c3c" stroke-width="0.8"/>
<line x1="418.5" y1="740.6999999999999" x2="418.5" y2="743.0999999999999" stroke="#d83c3c" stroke-width="0.8"/>
<line x1="425" y1="740.6999999999999" x2="425" y2="743.0999999999999" stroke="#d83c3c" stroke-width="0.8"/>
<line x1="428" y1="740.6999999999999" x2="428" y2="743.0999999999999" stroke="#d83c3c" stroke-width="0.8"/>
<line x1="431" y1="740.6999999999999" x2="431" y2="743.0999999999999" stroke="#d83c3c" stroke-width="0.8"/>
<line x1="434" y1="740.6999999999999" x2="434" y2="743.0999999999999" stroke="#d83c3c" stroke-width="0.8"/>
<line x1="437" y1="740.6999999999999" x2="437" y2="743.0999999999999" stroke="#d83c3c" stroke-width="0.8"/>
</svg></body></html>
